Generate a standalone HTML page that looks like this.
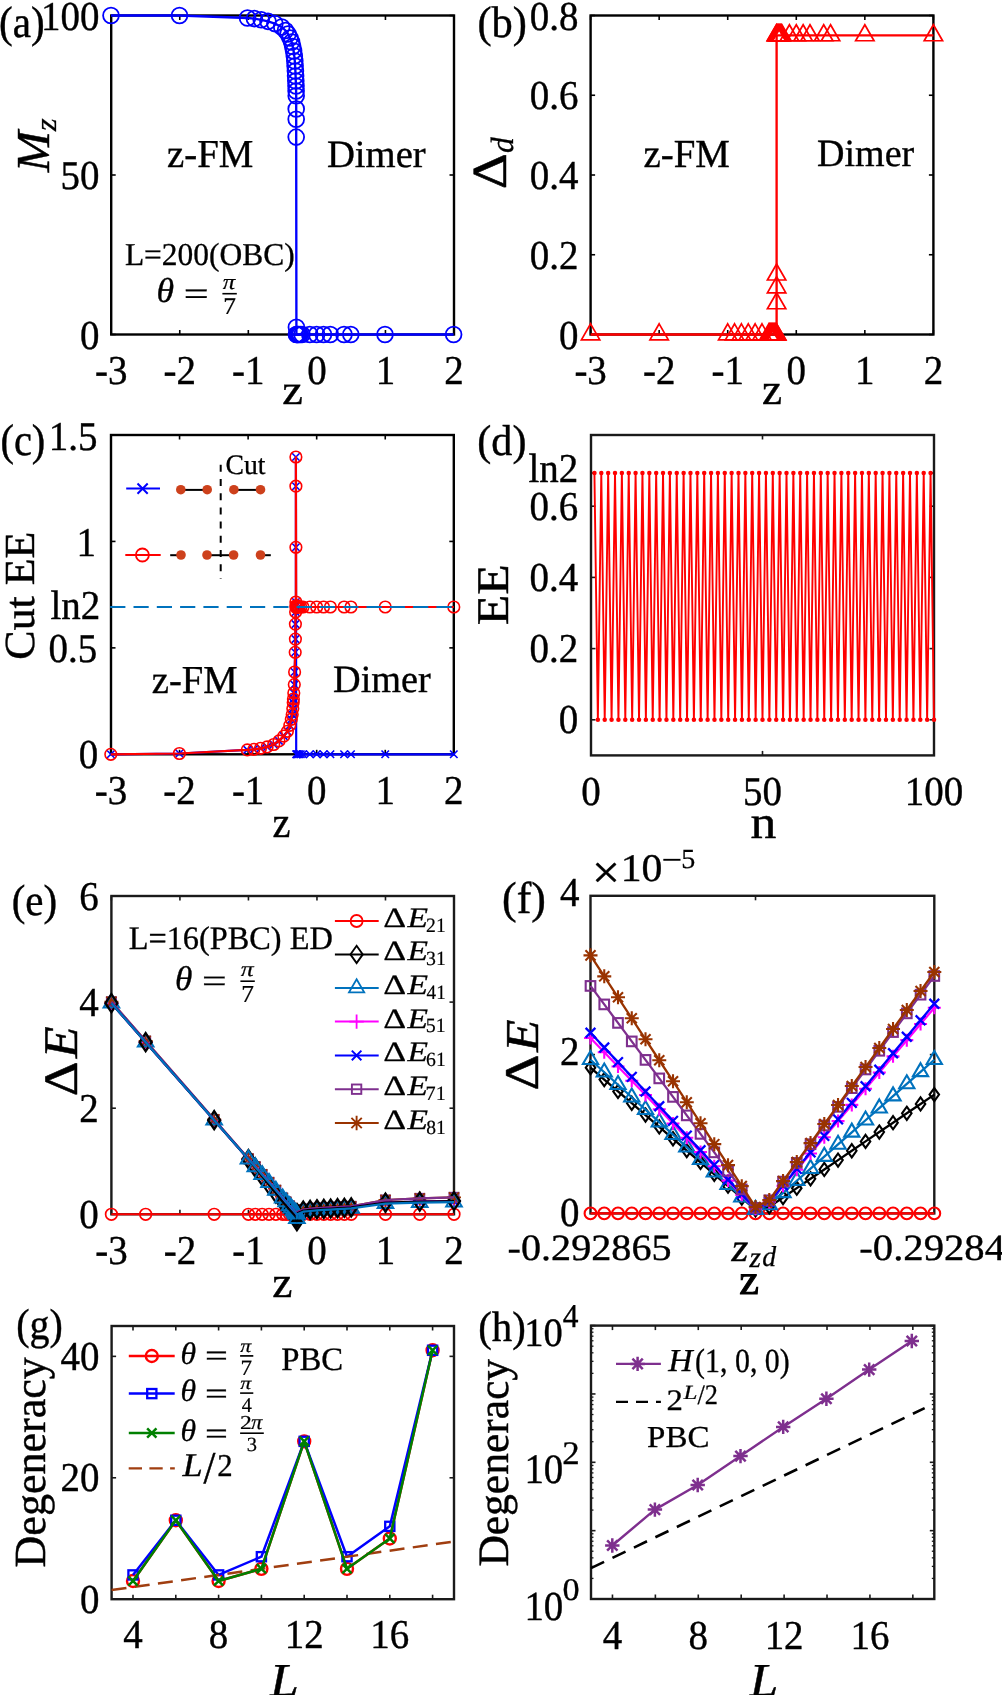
<!DOCTYPE html>
<html><head><meta charset="utf-8"><style>
html,body{margin:0;padding:0;background:#fff;}
svg{display:block;will-change:transform;}
text{font-family:"Liberation Serif", serif;text-rendering:geometricPrecision;stroke:#000;stroke-width:0;}
</style></head><body>
<svg width="1002" height="1695" viewBox="0 0 1002 1695">
<rect width="1002" height="1695" fill="#fff"/>
<text transform="translate(-1.05 37.2) scale(0.9320 1)" font-size="44.18" style="stroke-width:0.43px">(a)</text>
<line x1="111.2" y1="334.5" x2="111.2" y2="330" stroke="#000" stroke-width="1.6"/>
<line x1="111.2" y1="15.5" x2="111.2" y2="20" stroke="#000" stroke-width="1.6"/>
<line x1="179.76" y1="334.5" x2="179.76" y2="330" stroke="#000" stroke-width="1.6"/>
<line x1="179.76" y1="15.5" x2="179.76" y2="20" stroke="#000" stroke-width="1.6"/>
<line x1="248.32" y1="334.5" x2="248.32" y2="330" stroke="#000" stroke-width="1.6"/>
<line x1="248.32" y1="15.5" x2="248.32" y2="20" stroke="#000" stroke-width="1.6"/>
<line x1="316.88" y1="334.5" x2="316.88" y2="330" stroke="#000" stroke-width="1.6"/>
<line x1="316.88" y1="15.5" x2="316.88" y2="20" stroke="#000" stroke-width="1.6"/>
<line x1="385.44" y1="334.5" x2="385.44" y2="330" stroke="#000" stroke-width="1.6"/>
<line x1="385.44" y1="15.5" x2="385.44" y2="20" stroke="#000" stroke-width="1.6"/>
<line x1="454" y1="334.5" x2="454" y2="330" stroke="#000" stroke-width="1.6"/>
<line x1="454" y1="15.5" x2="454" y2="20" stroke="#000" stroke-width="1.6"/>
<line x1="111.2" y1="334.5" x2="115.7" y2="334.5" stroke="#000" stroke-width="1.6"/>
<line x1="454" y1="334.5" x2="449.5" y2="334.5" stroke="#000" stroke-width="1.6"/>
<line x1="111.2" y1="175" x2="115.7" y2="175" stroke="#000" stroke-width="1.6"/>
<line x1="454" y1="175" x2="449.5" y2="175" stroke="#000" stroke-width="1.6"/>
<line x1="111.2" y1="15.5" x2="115.7" y2="15.5" stroke="#000" stroke-width="1.6"/>
<line x1="454" y1="15.5" x2="449.5" y2="15.5" stroke="#000" stroke-width="1.6"/>
<rect x="111.2" y="15.5" width="342.8" height="319" fill="none" stroke="#000" stroke-width="2.4" stroke-linejoin="miter"/>
<polyline points="111,15.5 179.5,15.5 247.5,18 254.4,18.6 261.2,19.8 268,21.4 274.9,23.6 281.7,27 285.5,30.5 288,34 290,38 291.6,42 292.7,46.5 293.6,51 294.3,56 294.8,61 295.1,66 295.4,71 295.6,76 295.8,81 296,86 296.1,91 296.2,95.8 296.2,109 296.2,119.2 296.2,137.1 296.4,327.2 296.4,334.5 297,334.5 297.8,334.5 298.8,334.5 300.2,334.5 302,334.5 309.8,334.5 316.6,334.5 323.5,334.5 330.3,334.5 344,334.5 350.8,334.5 385,334.5 453.6,334.5" fill="none" stroke="#0000ff" stroke-width="2.35" stroke-linejoin="round"/>
<circle cx="111" cy="15.5" r="7.9" fill="none" stroke="#0000ff" stroke-width="1.8"/>
<circle cx="179.5" cy="15.5" r="7.9" fill="none" stroke="#0000ff" stroke-width="1.8"/>
<circle cx="247.5" cy="18" r="7.9" fill="none" stroke="#0000ff" stroke-width="1.8"/>
<circle cx="254.4" cy="18.6" r="7.9" fill="none" stroke="#0000ff" stroke-width="1.8"/>
<circle cx="261.2" cy="19.8" r="7.9" fill="none" stroke="#0000ff" stroke-width="1.8"/>
<circle cx="268" cy="21.4" r="7.9" fill="none" stroke="#0000ff" stroke-width="1.8"/>
<circle cx="274.9" cy="23.6" r="7.9" fill="none" stroke="#0000ff" stroke-width="1.8"/>
<circle cx="281.7" cy="27" r="7.9" fill="none" stroke="#0000ff" stroke-width="1.8"/>
<circle cx="285.5" cy="30.5" r="7.9" fill="none" stroke="#0000ff" stroke-width="1.8"/>
<circle cx="288" cy="34" r="7.9" fill="none" stroke="#0000ff" stroke-width="1.8"/>
<circle cx="290" cy="38" r="7.9" fill="none" stroke="#0000ff" stroke-width="1.8"/>
<circle cx="291.6" cy="42" r="7.9" fill="none" stroke="#0000ff" stroke-width="1.8"/>
<circle cx="292.7" cy="46.5" r="7.9" fill="none" stroke="#0000ff" stroke-width="1.8"/>
<circle cx="293.6" cy="51" r="7.9" fill="none" stroke="#0000ff" stroke-width="1.8"/>
<circle cx="294.3" cy="56" r="7.9" fill="none" stroke="#0000ff" stroke-width="1.8"/>
<circle cx="294.8" cy="61" r="7.9" fill="none" stroke="#0000ff" stroke-width="1.8"/>
<circle cx="295.1" cy="66" r="7.9" fill="none" stroke="#0000ff" stroke-width="1.8"/>
<circle cx="295.4" cy="71" r="7.9" fill="none" stroke="#0000ff" stroke-width="1.8"/>
<circle cx="295.6" cy="76" r="7.9" fill="none" stroke="#0000ff" stroke-width="1.8"/>
<circle cx="295.8" cy="81" r="7.9" fill="none" stroke="#0000ff" stroke-width="1.8"/>
<circle cx="296" cy="86" r="7.9" fill="none" stroke="#0000ff" stroke-width="1.8"/>
<circle cx="296.1" cy="91" r="7.9" fill="none" stroke="#0000ff" stroke-width="1.8"/>
<circle cx="296.2" cy="95.8" r="7.9" fill="none" stroke="#0000ff" stroke-width="1.8"/>
<circle cx="296.2" cy="109" r="7.9" fill="none" stroke="#0000ff" stroke-width="1.8"/>
<circle cx="296.2" cy="119.2" r="7.9" fill="none" stroke="#0000ff" stroke-width="1.8"/>
<circle cx="296.2" cy="137.1" r="7.9" fill="none" stroke="#0000ff" stroke-width="1.8"/>
<circle cx="296.4" cy="327.2" r="7.9" fill="none" stroke="#0000ff" stroke-width="1.8"/>
<circle cx="296.4" cy="334.5" r="7.9" fill="none" stroke="#0000ff" stroke-width="1.8"/>
<circle cx="297" cy="334.5" r="7.9" fill="none" stroke="#0000ff" stroke-width="1.8"/>
<circle cx="297.8" cy="334.5" r="7.9" fill="none" stroke="#0000ff" stroke-width="1.8"/>
<circle cx="298.8" cy="334.5" r="7.9" fill="none" stroke="#0000ff" stroke-width="1.8"/>
<circle cx="300.2" cy="334.5" r="7.9" fill="none" stroke="#0000ff" stroke-width="1.8"/>
<circle cx="302" cy="334.5" r="7.9" fill="none" stroke="#0000ff" stroke-width="1.8"/>
<circle cx="309.8" cy="334.5" r="7.9" fill="none" stroke="#0000ff" stroke-width="1.8"/>
<circle cx="316.6" cy="334.5" r="7.9" fill="none" stroke="#0000ff" stroke-width="1.8"/>
<circle cx="323.5" cy="334.5" r="7.9" fill="none" stroke="#0000ff" stroke-width="1.8"/>
<circle cx="330.3" cy="334.5" r="7.9" fill="none" stroke="#0000ff" stroke-width="1.8"/>
<circle cx="344" cy="334.5" r="7.9" fill="none" stroke="#0000ff" stroke-width="1.8"/>
<circle cx="350.8" cy="334.5" r="7.9" fill="none" stroke="#0000ff" stroke-width="1.8"/>
<circle cx="385" cy="334.5" r="7.9" fill="none" stroke="#0000ff" stroke-width="1.8"/>
<circle cx="453.6" cy="334.5" r="7.9" fill="none" stroke="#0000ff" stroke-width="1.8"/>
<text transform="translate(111.2 383.5) scale(0.950 1)" font-size="41" text-anchor="middle" style="stroke-width:0.40px">-3</text>
<text transform="translate(179.76 383.5) scale(0.950 1)" font-size="41" text-anchor="middle" style="stroke-width:0.40px">-2</text>
<text transform="translate(248.32 383.5) scale(0.950 1)" font-size="41" text-anchor="middle" style="stroke-width:0.40px">-1</text>
<text transform="translate(316.88 383.5) scale(0.950 1)" font-size="41" text-anchor="middle" style="stroke-width:0.40px">0</text>
<text transform="translate(385.44 383.5) scale(0.950 1)" font-size="41" text-anchor="middle" style="stroke-width:0.40px">1</text>
<text transform="translate(454 383.5) scale(0.950 1)" font-size="41" text-anchor="middle" style="stroke-width:0.40px">2</text>
<text transform="translate(99.5 348.5) scale(0.950 1)" font-size="41" text-anchor="end" style="stroke-width:0.40px">0</text>
<text transform="translate(99.5 189) scale(0.950 1)" font-size="41" text-anchor="end" style="stroke-width:0.40px">50</text>
<text transform="translate(99.5 29.5) scale(0.950 1)" font-size="41" text-anchor="end" style="stroke-width:0.40px">100</text>
<text transform="translate(282.34 403.9) scale(1.1045 1)" font-size="42.17" style="stroke-width:0.41px">z</text>
<text transform="translate(49 172.26) rotate(-90) scale(1.0458 1)" font-size="47.33" font-style="italic" style="stroke-width:0.46px">M</text>
<text transform="translate(56 131.2) rotate(-90) scale(1.0897 1)" font-size="30.43" font-style="italic" style="stroke-width:0.30px">z</text>
<text transform="translate(167.03 167.1) scale(0.9824 1)" font-size="39.54" style="stroke-width:0.39px">z-FM</text>
<text transform="translate(326.93 166.71) scale(1.0006 1)" font-size="38.67" style="stroke-width:0.38px">Dimer</text>
<text transform="translate(124.91 265.15) scale(0.9873 1)" font-size="31.87" style="stroke-width:0.31px">L=200(OBC)</text>
<text transform="translate(156.39 302.35) scale(1.0281 1)" font-size="34.79" font-style="italic" style="stroke-width:0.34px">θ</text>
<text transform="translate(183.81 304.67) scale(1.3000 1)" font-size="34.00" style="stroke-width:0.33px">=</text>
<text transform="translate(222.78 288.78) scale(1.1431 1)" font-size="21.70" font-style="italic" style="stroke-width:0.21px">π</text>
<line x1="222.4" y1="293.7" x2="236.8" y2="293.7" stroke="#000" stroke-width="1.6"/>
<text transform="translate(223.25 313.9) scale(1.0516 1)" font-size="24.12" style="stroke-width:0.24px">7</text>
<text transform="translate(477.4 37.2) scale(0.9597 1)" font-size="44.18" style="stroke-width:0.43px">(b)</text>
<line x1="590.6" y1="334.5" x2="590.6" y2="330" stroke="#000" stroke-width="1.6"/>
<line x1="590.6" y1="15.5" x2="590.6" y2="20" stroke="#000" stroke-width="1.6"/>
<line x1="659.16" y1="334.5" x2="659.16" y2="330" stroke="#000" stroke-width="1.6"/>
<line x1="659.16" y1="15.5" x2="659.16" y2="20" stroke="#000" stroke-width="1.6"/>
<line x1="727.72" y1="334.5" x2="727.72" y2="330" stroke="#000" stroke-width="1.6"/>
<line x1="727.72" y1="15.5" x2="727.72" y2="20" stroke="#000" stroke-width="1.6"/>
<line x1="796.28" y1="334.5" x2="796.28" y2="330" stroke="#000" stroke-width="1.6"/>
<line x1="796.28" y1="15.5" x2="796.28" y2="20" stroke="#000" stroke-width="1.6"/>
<line x1="864.84" y1="334.5" x2="864.84" y2="330" stroke="#000" stroke-width="1.6"/>
<line x1="864.84" y1="15.5" x2="864.84" y2="20" stroke="#000" stroke-width="1.6"/>
<line x1="933.4" y1="334.5" x2="933.4" y2="330" stroke="#000" stroke-width="1.6"/>
<line x1="933.4" y1="15.5" x2="933.4" y2="20" stroke="#000" stroke-width="1.6"/>
<line x1="590.6" y1="334.5" x2="595.1" y2="334.5" stroke="#000" stroke-width="1.6"/>
<line x1="933.4" y1="334.5" x2="928.9" y2="334.5" stroke="#000" stroke-width="1.6"/>
<line x1="590.6" y1="254.75" x2="595.1" y2="254.75" stroke="#000" stroke-width="1.6"/>
<line x1="933.4" y1="254.75" x2="928.9" y2="254.75" stroke="#000" stroke-width="1.6"/>
<line x1="590.6" y1="175" x2="595.1" y2="175" stroke="#000" stroke-width="1.6"/>
<line x1="933.4" y1="175" x2="928.9" y2="175" stroke="#000" stroke-width="1.6"/>
<line x1="590.6" y1="95.25" x2="595.1" y2="95.25" stroke="#000" stroke-width="1.6"/>
<line x1="933.4" y1="95.25" x2="928.9" y2="95.25" stroke="#000" stroke-width="1.6"/>
<line x1="590.6" y1="15.5" x2="595.1" y2="15.5" stroke="#000" stroke-width="1.6"/>
<line x1="933.4" y1="15.5" x2="928.9" y2="15.5" stroke="#000" stroke-width="1.6"/>
<rect x="590.6" y="15.5" width="342.8" height="319" fill="none" stroke="#000" stroke-width="2.4" stroke-linejoin="miter"/>
<polyline points="590.6,334.5 659.16,334.5 727.72,334.5 734.58,334.5 741.43,334.5 748.29,334.5 755.14,334.5 762,334.5 768.86,334.5 769.54,334.5 770.23,334.5 770.91,334.5 771.6,334.5 772.28,334.5 772.97,334.5 773.66,334.5 774.34,334.5 775.03,334.5 775.71,334.5 776.61,334.5 776.61,334.5 776.61,303.4 776.61,287.45 776.61,274.69 776.61,35.44 776.4,35.44 777.08,35.44 777.77,35.44 778.45,35.44 779.14,35.44 779.83,35.44 780.51,35.44 781.2,35.44 781.88,35.44 789.42,35.44 796.28,35.44 803.14,35.44 809.99,35.44 823.7,35.44 830.56,35.44 864.84,35.44 933.4,35.44" fill="none" stroke="#ff0000" stroke-width="2.35" stroke-linejoin="round"/>
<polygon points="590.6,323.83 599.8,339.83 581.4,339.83" fill="none" stroke="#ff0000" stroke-width="1.7" stroke-linejoin="miter"/>
<polygon points="659.16,323.83 668.36,339.83 649.96,339.83" fill="none" stroke="#ff0000" stroke-width="1.7" stroke-linejoin="miter"/>
<polygon points="727.72,323.83 736.92,339.83 718.52,339.83" fill="none" stroke="#ff0000" stroke-width="1.7" stroke-linejoin="miter"/>
<polygon points="734.58,323.83 743.78,339.83 725.38,339.83" fill="none" stroke="#ff0000" stroke-width="1.7" stroke-linejoin="miter"/>
<polygon points="741.43,323.83 750.63,339.83 732.23,339.83" fill="none" stroke="#ff0000" stroke-width="1.7" stroke-linejoin="miter"/>
<polygon points="748.29,323.83 757.49,339.83 739.09,339.83" fill="none" stroke="#ff0000" stroke-width="1.7" stroke-linejoin="miter"/>
<polygon points="755.14,323.83 764.34,339.83 745.94,339.83" fill="none" stroke="#ff0000" stroke-width="1.7" stroke-linejoin="miter"/>
<polygon points="762,323.83 771.2,339.83 752.8,339.83" fill="none" stroke="#ff0000" stroke-width="1.7" stroke-linejoin="miter"/>
<polygon points="768.86,323.83 778.06,339.83 759.66,339.83" fill="none" stroke="#ff0000" stroke-width="1.7" stroke-linejoin="miter"/>
<polygon points="769.54,323.83 778.74,339.83 760.34,339.83" fill="none" stroke="#ff0000" stroke-width="1.7" stroke-linejoin="miter"/>
<polygon points="770.23,323.83 779.43,339.83 761.03,339.83" fill="none" stroke="#ff0000" stroke-width="1.7" stroke-linejoin="miter"/>
<polygon points="770.91,323.83 780.11,339.83 761.71,339.83" fill="none" stroke="#ff0000" stroke-width="1.7" stroke-linejoin="miter"/>
<polygon points="771.6,323.83 780.8,339.83 762.4,339.83" fill="none" stroke="#ff0000" stroke-width="1.7" stroke-linejoin="miter"/>
<polygon points="772.28,323.83 781.48,339.83 763.08,339.83" fill="none" stroke="#ff0000" stroke-width="1.7" stroke-linejoin="miter"/>
<polygon points="772.97,323.83 782.17,339.83 763.77,339.83" fill="none" stroke="#ff0000" stroke-width="1.7" stroke-linejoin="miter"/>
<polygon points="773.66,323.83 782.86,339.83 764.46,339.83" fill="none" stroke="#ff0000" stroke-width="1.7" stroke-linejoin="miter"/>
<polygon points="774.34,323.83 783.54,339.83 765.14,339.83" fill="none" stroke="#ff0000" stroke-width="1.7" stroke-linejoin="miter"/>
<polygon points="775.03,323.83 784.23,339.83 765.83,339.83" fill="none" stroke="#ff0000" stroke-width="1.7" stroke-linejoin="miter"/>
<polygon points="775.71,323.83 784.91,339.83 766.51,339.83" fill="none" stroke="#ff0000" stroke-width="1.7" stroke-linejoin="miter"/>
<polygon points="776.61,323.83 785.81,339.83 767.41,339.83" fill="none" stroke="#ff0000" stroke-width="1.7" stroke-linejoin="miter"/>
<polygon points="776.61,323.83 785.81,339.83 767.41,339.83" fill="none" stroke="#ff0000" stroke-width="1.7" stroke-linejoin="miter"/>
<polygon points="776.61,292.73 785.81,308.73 767.41,308.73" fill="none" stroke="#ff0000" stroke-width="1.7" stroke-linejoin="miter"/>
<polygon points="776.61,276.78 785.81,292.78 767.41,292.78" fill="none" stroke="#ff0000" stroke-width="1.7" stroke-linejoin="miter"/>
<polygon points="776.61,264.02 785.81,280.02 767.41,280.02" fill="none" stroke="#ff0000" stroke-width="1.7" stroke-linejoin="miter"/>
<polygon points="776.61,24.77 785.81,40.77 767.41,40.77" fill="none" stroke="#ff0000" stroke-width="1.7" stroke-linejoin="miter"/>
<polygon points="776.4,24.77 785.6,40.77 767.2,40.77" fill="none" stroke="#ff0000" stroke-width="1.7" stroke-linejoin="miter"/>
<polygon points="777.08,24.77 786.28,40.77 767.88,40.77" fill="none" stroke="#ff0000" stroke-width="1.7" stroke-linejoin="miter"/>
<polygon points="777.77,24.77 786.97,40.77 768.57,40.77" fill="none" stroke="#ff0000" stroke-width="1.7" stroke-linejoin="miter"/>
<polygon points="778.45,24.77 787.65,40.77 769.25,40.77" fill="none" stroke="#ff0000" stroke-width="1.7" stroke-linejoin="miter"/>
<polygon points="779.14,24.77 788.34,40.77 769.94,40.77" fill="none" stroke="#ff0000" stroke-width="1.7" stroke-linejoin="miter"/>
<polygon points="779.83,24.77 789.03,40.77 770.63,40.77" fill="none" stroke="#ff0000" stroke-width="1.7" stroke-linejoin="miter"/>
<polygon points="780.51,24.77 789.71,40.77 771.31,40.77" fill="none" stroke="#ff0000" stroke-width="1.7" stroke-linejoin="miter"/>
<polygon points="781.2,24.77 790.4,40.77 772,40.77" fill="none" stroke="#ff0000" stroke-width="1.7" stroke-linejoin="miter"/>
<polygon points="781.88,24.77 791.08,40.77 772.68,40.77" fill="none" stroke="#ff0000" stroke-width="1.7" stroke-linejoin="miter"/>
<polygon points="789.42,24.77 798.62,40.77 780.22,40.77" fill="none" stroke="#ff0000" stroke-width="1.7" stroke-linejoin="miter"/>
<polygon points="796.28,24.77 805.48,40.77 787.08,40.77" fill="none" stroke="#ff0000" stroke-width="1.7" stroke-linejoin="miter"/>
<polygon points="803.14,24.77 812.34,40.77 793.94,40.77" fill="none" stroke="#ff0000" stroke-width="1.7" stroke-linejoin="miter"/>
<polygon points="809.99,24.77 819.19,40.77 800.79,40.77" fill="none" stroke="#ff0000" stroke-width="1.7" stroke-linejoin="miter"/>
<polygon points="823.7,24.77 832.9,40.77 814.5,40.77" fill="none" stroke="#ff0000" stroke-width="1.7" stroke-linejoin="miter"/>
<polygon points="830.56,24.77 839.76,40.77 821.36,40.77" fill="none" stroke="#ff0000" stroke-width="1.7" stroke-linejoin="miter"/>
<polygon points="864.84,24.77 874.04,40.77 855.64,40.77" fill="none" stroke="#ff0000" stroke-width="1.7" stroke-linejoin="miter"/>
<polygon points="933.4,24.77 942.6,40.77 924.2,40.77" fill="none" stroke="#ff0000" stroke-width="1.7" stroke-linejoin="miter"/>
<text transform="translate(590.6 383.5) scale(0.950 1)" font-size="41" text-anchor="middle" style="stroke-width:0.40px">-3</text>
<text transform="translate(659.16 383.5) scale(0.950 1)" font-size="41" text-anchor="middle" style="stroke-width:0.40px">-2</text>
<text transform="translate(727.72 383.5) scale(0.950 1)" font-size="41" text-anchor="middle" style="stroke-width:0.40px">-1</text>
<text transform="translate(796.28 383.5) scale(0.950 1)" font-size="41" text-anchor="middle" style="stroke-width:0.40px">0</text>
<text transform="translate(864.84 383.5) scale(0.950 1)" font-size="41" text-anchor="middle" style="stroke-width:0.40px">1</text>
<text transform="translate(933.4 383.5) scale(0.950 1)" font-size="41" text-anchor="middle" style="stroke-width:0.40px">2</text>
<text transform="translate(578.5 348.5) scale(0.950 1)" font-size="41" text-anchor="end" style="stroke-width:0.40px">0</text>
<text transform="translate(578.5 268.75) scale(0.950 1)" font-size="41" text-anchor="end" style="stroke-width:0.40px">0.2</text>
<text transform="translate(578.5 189) scale(0.950 1)" font-size="41" text-anchor="end" style="stroke-width:0.40px">0.4</text>
<text transform="translate(578.5 109.25) scale(0.950 1)" font-size="41" text-anchor="end" style="stroke-width:0.40px">0.6</text>
<text transform="translate(578.5 29.5) scale(0.950 1)" font-size="41" text-anchor="end" style="stroke-width:0.40px">0.8</text>
<text transform="translate(762.07 403.9) scale(1.0423 1)" font-size="43.48" style="stroke-width:0.42px">z</text>
<text transform="translate(505.9 189.37) rotate(-90) scale(1.1478 1)" font-size="48.94" style="stroke-width:0.48px">Δ</text>
<text transform="translate(512.78 153.05) rotate(-90) scale(0.9808 1)" font-size="32.20" font-style="italic" style="stroke-width:0.31px">d</text>
<text transform="translate(643.43 166.5) scale(0.9798 1)" font-size="39.69" style="stroke-width:0.39px">z-FM</text>
<text transform="translate(817.05 166.11) scale(0.9870 1)" font-size="38.52" style="stroke-width:0.38px">Dimer</text>
<text transform="translate(0.48 455.05) scale(0.9098 1)" font-size="44.40" style="stroke-width:0.43px">(c)</text>
<line x1="111" y1="754.3" x2="111" y2="749.8" stroke="#000" stroke-width="1.6"/>
<line x1="111" y1="435" x2="111" y2="439.5" stroke="#000" stroke-width="1.6"/>
<line x1="179.56" y1="754.3" x2="179.56" y2="749.8" stroke="#000" stroke-width="1.6"/>
<line x1="179.56" y1="435" x2="179.56" y2="439.5" stroke="#000" stroke-width="1.6"/>
<line x1="248.12" y1="754.3" x2="248.12" y2="749.8" stroke="#000" stroke-width="1.6"/>
<line x1="248.12" y1="435" x2="248.12" y2="439.5" stroke="#000" stroke-width="1.6"/>
<line x1="316.68" y1="754.3" x2="316.68" y2="749.8" stroke="#000" stroke-width="1.6"/>
<line x1="316.68" y1="435" x2="316.68" y2="439.5" stroke="#000" stroke-width="1.6"/>
<line x1="385.24" y1="754.3" x2="385.24" y2="749.8" stroke="#000" stroke-width="1.6"/>
<line x1="385.24" y1="435" x2="385.24" y2="439.5" stroke="#000" stroke-width="1.6"/>
<line x1="453.8" y1="754.3" x2="453.8" y2="749.8" stroke="#000" stroke-width="1.6"/>
<line x1="453.8" y1="435" x2="453.8" y2="439.5" stroke="#000" stroke-width="1.6"/>
<line x1="111" y1="754.3" x2="115.5" y2="754.3" stroke="#000" stroke-width="1.6"/>
<line x1="453.8" y1="754.3" x2="449.3" y2="754.3" stroke="#000" stroke-width="1.6"/>
<line x1="111" y1="647.87" x2="115.5" y2="647.87" stroke="#000" stroke-width="1.6"/>
<line x1="453.8" y1="647.87" x2="449.3" y2="647.87" stroke="#000" stroke-width="1.6"/>
<line x1="111" y1="606.76" x2="115.5" y2="606.76" stroke="#000" stroke-width="1.6"/>
<line x1="453.8" y1="606.76" x2="449.3" y2="606.76" stroke="#000" stroke-width="1.6"/>
<line x1="111" y1="541.43" x2="115.5" y2="541.43" stroke="#000" stroke-width="1.6"/>
<line x1="453.8" y1="541.43" x2="449.3" y2="541.43" stroke="#000" stroke-width="1.6"/>
<line x1="111" y1="435" x2="115.5" y2="435" stroke="#000" stroke-width="1.6"/>
<line x1="453.8" y1="435" x2="449.3" y2="435" stroke="#000" stroke-width="1.6"/>
<rect x="111" y="435" width="342.8" height="319.3" fill="none" stroke="#000" stroke-width="2.4" stroke-linejoin="miter"/>
<polyline points="110.8,754.3 179.4,753.5 247.3,749.9 253.9,749.3 260.5,748.3 267.1,746.9 273.7,744.5 279,740.9 283.8,736.1 287.4,731.3 289.8,725.3 291.3,719.3 292.2,714.6 292.8,708.6 293.2,702.6 293.4,699 293.8,693 294.3,684.6 294.6,672 295.2,652.3 295.4,639.1 295.4,624.1 295.6,612 295.8,606 295.9,602 295.9,547.3 295.9,486.2 295.9,457 296.2,754.3 296.6,754.3 297.2,754.3 298,754.3 299.2,754.3 300.8,754.3 303,754.3 309.82,754.3 316.68,754.3 323.54,754.3 330.39,754.3 344.1,754.3 350.96,754.3 385.24,754.3 453.8,754.3" fill="none" stroke="#0000ff" stroke-width="2.2" stroke-linejoin="round"/>
<path d="M107.05 750.55L114.55 758.05M107.05 758.05L114.55 750.55" stroke="#0000ff" stroke-width="1.6"/>
<path d="M175.65 749.75L183.15 757.25M175.65 757.25L183.15 749.75" stroke="#0000ff" stroke-width="1.6"/>
<path d="M243.55 746.15L251.05 753.65M243.55 753.65L251.05 746.15" stroke="#0000ff" stroke-width="1.6"/>
<path d="M250.15 745.55L257.65 753.05M250.15 753.05L257.65 745.55" stroke="#0000ff" stroke-width="1.6"/>
<path d="M256.75 744.55L264.25 752.05M256.75 752.05L264.25 744.55" stroke="#0000ff" stroke-width="1.6"/>
<path d="M263.35 743.15L270.85 750.65M263.35 750.65L270.85 743.15" stroke="#0000ff" stroke-width="1.6"/>
<path d="M269.95 740.75L277.45 748.25M269.95 748.25L277.45 740.75" stroke="#0000ff" stroke-width="1.6"/>
<path d="M275.25 737.15L282.75 744.65M275.25 744.65L282.75 737.15" stroke="#0000ff" stroke-width="1.6"/>
<path d="M280.05 732.35L287.55 739.85M280.05 739.85L287.55 732.35" stroke="#0000ff" stroke-width="1.6"/>
<path d="M283.65 727.55L291.15 735.05M283.65 735.05L291.15 727.55" stroke="#0000ff" stroke-width="1.6"/>
<path d="M286.05 721.55L293.55 729.05M286.05 729.05L293.55 721.55" stroke="#0000ff" stroke-width="1.6"/>
<path d="M287.55 715.55L295.05 723.05M287.55 723.05L295.05 715.55" stroke="#0000ff" stroke-width="1.6"/>
<path d="M288.45 710.85L295.95 718.35M288.45 718.35L295.95 710.85" stroke="#0000ff" stroke-width="1.6"/>
<path d="M289.05 704.85L296.55 712.35M289.05 712.35L296.55 704.85" stroke="#0000ff" stroke-width="1.6"/>
<path d="M289.45 698.85L296.95 706.35M289.45 706.35L296.95 698.85" stroke="#0000ff" stroke-width="1.6"/>
<path d="M289.65 695.25L297.15 702.75M289.65 702.75L297.15 695.25" stroke="#0000ff" stroke-width="1.6"/>
<path d="M290.05 689.25L297.55 696.75M290.05 696.75L297.55 689.25" stroke="#0000ff" stroke-width="1.6"/>
<path d="M290.55 680.85L298.05 688.35M290.55 688.35L298.05 680.85" stroke="#0000ff" stroke-width="1.6"/>
<path d="M290.85 668.25L298.35 675.75M290.85 675.75L298.35 668.25" stroke="#0000ff" stroke-width="1.6"/>
<path d="M291.45 648.55L298.95 656.05M291.45 656.05L298.95 648.55" stroke="#0000ff" stroke-width="1.6"/>
<path d="M291.65 635.35L299.15 642.85M291.65 642.85L299.15 635.35" stroke="#0000ff" stroke-width="1.6"/>
<path d="M291.65 620.35L299.15 627.85M291.65 627.85L299.15 620.35" stroke="#0000ff" stroke-width="1.6"/>
<path d="M291.85 608.25L299.35 615.75M291.85 615.75L299.35 608.25" stroke="#0000ff" stroke-width="1.6"/>
<path d="M292.05 602.25L299.55 609.75M292.05 609.75L299.55 602.25" stroke="#0000ff" stroke-width="1.6"/>
<path d="M292.15 598.25L299.65 605.75M292.15 605.75L299.65 598.25" stroke="#0000ff" stroke-width="1.6"/>
<path d="M292.15 543.55L299.65 551.05M292.15 551.05L299.65 543.55" stroke="#0000ff" stroke-width="1.6"/>
<path d="M292.15 482.45L299.65 489.95M292.15 489.95L299.65 482.45" stroke="#0000ff" stroke-width="1.6"/>
<path d="M292.15 453.25L299.65 460.75M292.15 460.75L299.65 453.25" stroke="#0000ff" stroke-width="1.6"/>
<path d="M292.45 750.55L299.95 758.05M292.45 758.05L299.95 750.55" stroke="#0000ff" stroke-width="1.6"/>
<path d="M292.85 750.55L300.35 758.05M292.85 758.05L300.35 750.55" stroke="#0000ff" stroke-width="1.6"/>
<path d="M293.45 750.55L300.95 758.05M293.45 758.05L300.95 750.55" stroke="#0000ff" stroke-width="1.6"/>
<path d="M294.25 750.55L301.75 758.05M294.25 758.05L301.75 750.55" stroke="#0000ff" stroke-width="1.6"/>
<path d="M295.45 750.55L302.95 758.05M295.45 758.05L302.95 750.55" stroke="#0000ff" stroke-width="1.6"/>
<path d="M297.05 750.55L304.55 758.05M297.05 758.05L304.55 750.55" stroke="#0000ff" stroke-width="1.6"/>
<path d="M299.25 750.55L306.75 758.05M299.25 758.05L306.75 750.55" stroke="#0000ff" stroke-width="1.6"/>
<path d="M306.07 750.55L313.57 758.05M306.07 758.05L313.57 750.55" stroke="#0000ff" stroke-width="1.6"/>
<path d="M312.93 750.55L320.43 758.05M312.93 758.05L320.43 750.55" stroke="#0000ff" stroke-width="1.6"/>
<path d="M319.79 750.55L327.29 758.05M319.79 758.05L327.29 750.55" stroke="#0000ff" stroke-width="1.6"/>
<path d="M326.64 750.55L334.14 758.05M326.64 758.05L334.14 750.55" stroke="#0000ff" stroke-width="1.6"/>
<path d="M340.35 750.55L347.85 758.05M340.35 758.05L347.85 750.55" stroke="#0000ff" stroke-width="1.6"/>
<path d="M347.21 750.55L354.71 758.05M347.21 758.05L354.71 750.55" stroke="#0000ff" stroke-width="1.6"/>
<path d="M381.49 750.55L388.99 758.05M381.49 758.05L388.99 750.55" stroke="#0000ff" stroke-width="1.6"/>
<path d="M450.05 750.55L457.55 758.05M450.05 758.05L457.55 750.55" stroke="#0000ff" stroke-width="1.6"/>
<polyline points="110.8,754.3 179.4,753.5 247.3,749.9 253.9,749.3 260.5,748.3 267.1,746.9 273.7,744.5 279,740.9 283.8,736.1 287.4,731.3 289.8,725.3 291.3,719.3 292.2,714.6 292.8,708.6 293.2,702.6 293.4,699 293.8,693 294.3,684.6 294.6,672 295.2,652.3 295.4,639.1 295.4,624.1 295.6,612 295.8,606 295.9,602 295.9,547.3 295.9,486.2 295.9,457 296.2,607.5 296.6,605.5 297.2,606.5 298,607 299.2,607 300.8,607 303,607 309.82,607 316.68,607 323.54,607 330.39,607 344.1,607 350.96,607 385.24,607 453.8,607" fill="none" stroke="#ff0000" stroke-width="2.2" stroke-linejoin="round"/>
<circle cx="110.8" cy="754.3" r="5.8" fill="none" stroke="#ff0000" stroke-width="1.6"/>
<circle cx="179.4" cy="753.5" r="5.8" fill="none" stroke="#ff0000" stroke-width="1.6"/>
<circle cx="247.3" cy="749.9" r="5.8" fill="none" stroke="#ff0000" stroke-width="1.6"/>
<circle cx="253.9" cy="749.3" r="5.8" fill="none" stroke="#ff0000" stroke-width="1.6"/>
<circle cx="260.5" cy="748.3" r="5.8" fill="none" stroke="#ff0000" stroke-width="1.6"/>
<circle cx="267.1" cy="746.9" r="5.8" fill="none" stroke="#ff0000" stroke-width="1.6"/>
<circle cx="273.7" cy="744.5" r="5.8" fill="none" stroke="#ff0000" stroke-width="1.6"/>
<circle cx="279" cy="740.9" r="5.8" fill="none" stroke="#ff0000" stroke-width="1.6"/>
<circle cx="283.8" cy="736.1" r="5.8" fill="none" stroke="#ff0000" stroke-width="1.6"/>
<circle cx="287.4" cy="731.3" r="5.8" fill="none" stroke="#ff0000" stroke-width="1.6"/>
<circle cx="289.8" cy="725.3" r="5.8" fill="none" stroke="#ff0000" stroke-width="1.6"/>
<circle cx="291.3" cy="719.3" r="5.8" fill="none" stroke="#ff0000" stroke-width="1.6"/>
<circle cx="292.2" cy="714.6" r="5.8" fill="none" stroke="#ff0000" stroke-width="1.6"/>
<circle cx="292.8" cy="708.6" r="5.8" fill="none" stroke="#ff0000" stroke-width="1.6"/>
<circle cx="293.2" cy="702.6" r="5.8" fill="none" stroke="#ff0000" stroke-width="1.6"/>
<circle cx="293.4" cy="699" r="5.8" fill="none" stroke="#ff0000" stroke-width="1.6"/>
<circle cx="293.8" cy="693" r="5.8" fill="none" stroke="#ff0000" stroke-width="1.6"/>
<circle cx="294.3" cy="684.6" r="5.8" fill="none" stroke="#ff0000" stroke-width="1.6"/>
<circle cx="294.6" cy="672" r="5.8" fill="none" stroke="#ff0000" stroke-width="1.6"/>
<circle cx="295.2" cy="652.3" r="5.8" fill="none" stroke="#ff0000" stroke-width="1.6"/>
<circle cx="295.4" cy="639.1" r="5.8" fill="none" stroke="#ff0000" stroke-width="1.6"/>
<circle cx="295.4" cy="624.1" r="5.8" fill="none" stroke="#ff0000" stroke-width="1.6"/>
<circle cx="295.6" cy="612" r="5.8" fill="none" stroke="#ff0000" stroke-width="1.6"/>
<circle cx="295.8" cy="606" r="5.8" fill="none" stroke="#ff0000" stroke-width="1.6"/>
<circle cx="295.9" cy="602" r="5.8" fill="none" stroke="#ff0000" stroke-width="1.6"/>
<circle cx="295.9" cy="547.3" r="5.8" fill="none" stroke="#ff0000" stroke-width="1.6"/>
<circle cx="295.9" cy="486.2" r="5.8" fill="none" stroke="#ff0000" stroke-width="1.6"/>
<circle cx="295.9" cy="457" r="5.8" fill="none" stroke="#ff0000" stroke-width="1.6"/>
<circle cx="296.2" cy="607.5" r="5.8" fill="none" stroke="#ff0000" stroke-width="1.6"/>
<circle cx="296.6" cy="605.5" r="5.8" fill="none" stroke="#ff0000" stroke-width="1.6"/>
<circle cx="297.2" cy="606.5" r="5.8" fill="none" stroke="#ff0000" stroke-width="1.6"/>
<circle cx="298" cy="607" r="5.8" fill="none" stroke="#ff0000" stroke-width="1.6"/>
<circle cx="299.2" cy="607" r="5.8" fill="none" stroke="#ff0000" stroke-width="1.6"/>
<circle cx="300.8" cy="607" r="5.8" fill="none" stroke="#ff0000" stroke-width="1.6"/>
<circle cx="303" cy="607" r="5.8" fill="none" stroke="#ff0000" stroke-width="1.6"/>
<circle cx="309.82" cy="607" r="5.8" fill="none" stroke="#ff0000" stroke-width="1.6"/>
<circle cx="316.68" cy="607" r="5.8" fill="none" stroke="#ff0000" stroke-width="1.6"/>
<circle cx="323.54" cy="607" r="5.8" fill="none" stroke="#ff0000" stroke-width="1.6"/>
<circle cx="330.39" cy="607" r="5.8" fill="none" stroke="#ff0000" stroke-width="1.6"/>
<circle cx="344.1" cy="607" r="5.8" fill="none" stroke="#ff0000" stroke-width="1.6"/>
<circle cx="350.96" cy="607" r="5.8" fill="none" stroke="#ff0000" stroke-width="1.6"/>
<circle cx="385.24" cy="607" r="5.8" fill="none" stroke="#ff0000" stroke-width="1.6"/>
<circle cx="453.8" cy="607" r="5.8" fill="none" stroke="#ff0000" stroke-width="1.6"/>
<line x1="110.2" y1="607" x2="454" y2="607" stroke="#0072bd" stroke-width="1.8" stroke-dasharray="15.2 8.1"/>
<line x1="126.2" y1="488.6" x2="160" y2="488.6" stroke="#0000ff" stroke-width="2"/>
<path d="M137.5 483.5L147.7 493.7M137.5 493.7L147.7 483.5" stroke="#0000ff" stroke-width="2"/>
<line x1="125.3" y1="555" x2="160.7" y2="555" stroke="#ff0000" stroke-width="2"/>
<circle cx="142.4" cy="555" r="6.5" fill="none" stroke="#ff0000" stroke-width="1.8"/>
<line x1="180.8" y1="489.9" x2="207.2" y2="489.9" stroke="#000" stroke-width="2"/>
<line x1="233.9" y1="489.9" x2="260.5" y2="489.9" stroke="#000" stroke-width="2"/>
<circle cx="180.8" cy="489.7" r="4.8" fill="#cd411c"/>
<circle cx="207.2" cy="489.7" r="4.8" fill="#cd411c"/>
<circle cx="233.9" cy="489.7" r="4.8" fill="#cd411c"/>
<circle cx="260.5" cy="489.7" r="4.8" fill="#cd411c"/>
<line x1="170.2" y1="555.2" x2="181" y2="555.2" stroke="#000" stroke-width="2"/>
<line x1="207" y1="555.2" x2="233.6" y2="555.2" stroke="#000" stroke-width="2"/>
<line x1="260.5" y1="555.2" x2="270.8" y2="555.2" stroke="#000" stroke-width="2"/>
<circle cx="181" cy="555" r="4.8" fill="#cd411c"/>
<circle cx="207" cy="555" r="4.8" fill="#cd411c"/>
<circle cx="233.6" cy="555" r="4.8" fill="#cd411c"/>
<circle cx="260.5" cy="555" r="4.8" fill="#cd411c"/>
<line x1="220.7" y1="464.8" x2="220.7" y2="579" stroke="#000" stroke-width="2" stroke-dasharray="7 7.2"/>
<text transform="translate(225.49 474.32) scale(0.9825 1)" font-size="28.21" style="stroke-width:0.28px">Cut</text>
<text transform="translate(111 804) scale(0.950 1)" font-size="41" text-anchor="middle" style="stroke-width:0.40px">-3</text>
<text transform="translate(179.56 804) scale(0.950 1)" font-size="41" text-anchor="middle" style="stroke-width:0.40px">-2</text>
<text transform="translate(248.12 804) scale(0.950 1)" font-size="41" text-anchor="middle" style="stroke-width:0.40px">-1</text>
<text transform="translate(316.68 804) scale(0.950 1)" font-size="41" text-anchor="middle" style="stroke-width:0.40px">0</text>
<text transform="translate(385.24 804) scale(0.950 1)" font-size="41" text-anchor="middle" style="stroke-width:0.40px">1</text>
<text transform="translate(453.8 804) scale(0.950 1)" font-size="41" text-anchor="middle" style="stroke-width:0.40px">2</text>
<text transform="translate(97.4 449.6) scale(0.950 1)" font-size="41" text-anchor="end" style="stroke-width:0.40px">1.5</text>
<text transform="translate(96 556) scale(0.950 1)" font-size="41" text-anchor="end" style="stroke-width:0.40px">1</text>
<text transform="translate(100.3 619.1) scale(0.950 1)" font-size="41" text-anchor="end" style="stroke-width:0.40px">ln2</text>
<text transform="translate(97.1 662.4) scale(0.950 1)" font-size="41" text-anchor="end" style="stroke-width:0.40px">0.5</text>
<text transform="translate(98.2 768.4) scale(0.950 1)" font-size="41" text-anchor="end" style="stroke-width:0.40px">0</text>
<text transform="translate(272.49 836.7) scale(0.9316 1)" font-size="43.48" style="stroke-width:0.42px">z</text>
<text transform="translate(33.57 659.66) rotate(-90) scale(1.0254 1)" font-size="42.84" style="stroke-width:0.42px">Cut EE</text>
<text transform="translate(151.83 692.7) scale(0.9766 1)" font-size="39.54" style="stroke-width:0.39px">z-FM</text>
<text transform="translate(333.04 692.31) scale(0.9893 1)" font-size="38.67" style="stroke-width:0.38px">Dimer</text>
<text transform="translate(477.32 455.31) scale(0.9753 1)" font-size="43.19" style="stroke-width:0.42px">(d)</text>
<line x1="591" y1="755.4" x2="591" y2="750.9" stroke="#1a1a1a" stroke-width="1.6"/>
<line x1="591" y1="435" x2="591" y2="439.5" stroke="#1a1a1a" stroke-width="1.6"/>
<line x1="762.5" y1="755.4" x2="762.5" y2="750.9" stroke="#1a1a1a" stroke-width="1.6"/>
<line x1="762.5" y1="435" x2="762.5" y2="439.5" stroke="#1a1a1a" stroke-width="1.6"/>
<line x1="934" y1="755.4" x2="934" y2="750.9" stroke="#1a1a1a" stroke-width="1.6"/>
<line x1="934" y1="435" x2="934" y2="439.5" stroke="#1a1a1a" stroke-width="1.6"/>
<line x1="591" y1="719.8" x2="595.5" y2="719.8" stroke="#1a1a1a" stroke-width="1.6"/>
<line x1="934" y1="719.8" x2="929.5" y2="719.8" stroke="#1a1a1a" stroke-width="1.6"/>
<line x1="591" y1="648.6" x2="595.5" y2="648.6" stroke="#1a1a1a" stroke-width="1.6"/>
<line x1="934" y1="648.6" x2="929.5" y2="648.6" stroke="#1a1a1a" stroke-width="1.6"/>
<line x1="591" y1="577.4" x2="595.5" y2="577.4" stroke="#1a1a1a" stroke-width="1.6"/>
<line x1="934" y1="577.4" x2="929.5" y2="577.4" stroke="#1a1a1a" stroke-width="1.6"/>
<line x1="591" y1="506.2" x2="595.5" y2="506.2" stroke="#1a1a1a" stroke-width="1.6"/>
<line x1="934" y1="506.2" x2="929.5" y2="506.2" stroke="#1a1a1a" stroke-width="1.6"/>
<line x1="591" y1="473.04" x2="595.5" y2="473.04" stroke="#1a1a1a" stroke-width="1.6"/>
<line x1="934" y1="473.04" x2="929.5" y2="473.04" stroke="#1a1a1a" stroke-width="1.6"/>
<rect x="591" y="435" width="343" height="320.4" fill="none" stroke="#1a1a1a" stroke-width="2.4" stroke-linejoin="miter"/>
<polyline points="594.43,473.04 597.86,719.8 601.29,473.04 604.72,719.8 608.15,473.04 611.58,719.8 615.01,473.04 618.44,719.8 621.87,473.04 625.3,719.8 628.73,473.04 632.16,719.8 635.59,473.04 639.02,719.8 642.45,473.04 645.88,719.8 649.31,473.04 652.74,719.8 656.17,473.04 659.6,719.8 663.03,473.04 666.46,719.8 669.89,473.04 673.32,719.8 676.75,473.04 680.18,719.8 683.61,473.04 687.04,719.8 690.47,473.04 693.9,719.8 697.33,473.04 700.76,719.8 704.19,473.04 707.62,719.8 711.05,473.04 714.48,719.8 717.91,473.04 721.34,719.8 724.77,473.04 728.2,719.8 731.63,473.04 735.06,719.8 738.49,473.04 741.92,719.8 745.35,473.04 748.78,719.8 752.21,473.04 755.64,719.8 759.07,473.04 762.5,719.8 765.93,473.04 769.36,719.8 772.79,473.04 776.22,719.8 779.65,473.04 783.08,719.8 786.51,473.04 789.94,719.8 793.37,473.04 796.8,719.8 800.23,473.04 803.66,719.8 807.09,473.04 810.52,719.8 813.95,473.04 817.38,719.8 820.81,473.04 824.24,719.8 827.67,473.04 831.1,719.8 834.53,473.04 837.96,719.8 841.39,473.04 844.82,719.8 848.25,473.04 851.68,719.8 855.11,473.04 858.54,719.8 861.97,473.04 865.4,719.8 868.83,473.04 872.26,719.8 875.69,473.04 879.12,719.8 882.55,473.04 885.98,719.8 889.41,473.04 892.84,719.8 896.27,473.04 899.7,719.8 903.13,473.04 906.56,719.8 909.99,473.04 913.42,719.8 916.85,473.04 920.28,719.8 923.71,473.04 927.14,719.8 930.57,473.04 934,719.8" fill="none" stroke="#ff0000" stroke-width="1.9" stroke-linejoin="miter"/>
<circle cx="594.43" cy="473.04" r="2.25" fill="#ff0000"/>
<circle cx="597.86" cy="719.8" r="2.25" fill="#ff0000"/>
<circle cx="601.29" cy="473.04" r="2.25" fill="#ff0000"/>
<circle cx="604.72" cy="719.8" r="2.25" fill="#ff0000"/>
<circle cx="608.15" cy="473.04" r="2.25" fill="#ff0000"/>
<circle cx="611.58" cy="719.8" r="2.25" fill="#ff0000"/>
<circle cx="615.01" cy="473.04" r="2.25" fill="#ff0000"/>
<circle cx="618.44" cy="719.8" r="2.25" fill="#ff0000"/>
<circle cx="621.87" cy="473.04" r="2.25" fill="#ff0000"/>
<circle cx="625.3" cy="719.8" r="2.25" fill="#ff0000"/>
<circle cx="628.73" cy="473.04" r="2.25" fill="#ff0000"/>
<circle cx="632.16" cy="719.8" r="2.25" fill="#ff0000"/>
<circle cx="635.59" cy="473.04" r="2.25" fill="#ff0000"/>
<circle cx="639.02" cy="719.8" r="2.25" fill="#ff0000"/>
<circle cx="642.45" cy="473.04" r="2.25" fill="#ff0000"/>
<circle cx="645.88" cy="719.8" r="2.25" fill="#ff0000"/>
<circle cx="649.31" cy="473.04" r="2.25" fill="#ff0000"/>
<circle cx="652.74" cy="719.8" r="2.25" fill="#ff0000"/>
<circle cx="656.17" cy="473.04" r="2.25" fill="#ff0000"/>
<circle cx="659.6" cy="719.8" r="2.25" fill="#ff0000"/>
<circle cx="663.03" cy="473.04" r="2.25" fill="#ff0000"/>
<circle cx="666.46" cy="719.8" r="2.25" fill="#ff0000"/>
<circle cx="669.89" cy="473.04" r="2.25" fill="#ff0000"/>
<circle cx="673.32" cy="719.8" r="2.25" fill="#ff0000"/>
<circle cx="676.75" cy="473.04" r="2.25" fill="#ff0000"/>
<circle cx="680.18" cy="719.8" r="2.25" fill="#ff0000"/>
<circle cx="683.61" cy="473.04" r="2.25" fill="#ff0000"/>
<circle cx="687.04" cy="719.8" r="2.25" fill="#ff0000"/>
<circle cx="690.47" cy="473.04" r="2.25" fill="#ff0000"/>
<circle cx="693.9" cy="719.8" r="2.25" fill="#ff0000"/>
<circle cx="697.33" cy="473.04" r="2.25" fill="#ff0000"/>
<circle cx="700.76" cy="719.8" r="2.25" fill="#ff0000"/>
<circle cx="704.19" cy="473.04" r="2.25" fill="#ff0000"/>
<circle cx="707.62" cy="719.8" r="2.25" fill="#ff0000"/>
<circle cx="711.05" cy="473.04" r="2.25" fill="#ff0000"/>
<circle cx="714.48" cy="719.8" r="2.25" fill="#ff0000"/>
<circle cx="717.91" cy="473.04" r="2.25" fill="#ff0000"/>
<circle cx="721.34" cy="719.8" r="2.25" fill="#ff0000"/>
<circle cx="724.77" cy="473.04" r="2.25" fill="#ff0000"/>
<circle cx="728.2" cy="719.8" r="2.25" fill="#ff0000"/>
<circle cx="731.63" cy="473.04" r="2.25" fill="#ff0000"/>
<circle cx="735.06" cy="719.8" r="2.25" fill="#ff0000"/>
<circle cx="738.49" cy="473.04" r="2.25" fill="#ff0000"/>
<circle cx="741.92" cy="719.8" r="2.25" fill="#ff0000"/>
<circle cx="745.35" cy="473.04" r="2.25" fill="#ff0000"/>
<circle cx="748.78" cy="719.8" r="2.25" fill="#ff0000"/>
<circle cx="752.21" cy="473.04" r="2.25" fill="#ff0000"/>
<circle cx="755.64" cy="719.8" r="2.25" fill="#ff0000"/>
<circle cx="759.07" cy="473.04" r="2.25" fill="#ff0000"/>
<circle cx="762.5" cy="719.8" r="2.25" fill="#ff0000"/>
<circle cx="765.93" cy="473.04" r="2.25" fill="#ff0000"/>
<circle cx="769.36" cy="719.8" r="2.25" fill="#ff0000"/>
<circle cx="772.79" cy="473.04" r="2.25" fill="#ff0000"/>
<circle cx="776.22" cy="719.8" r="2.25" fill="#ff0000"/>
<circle cx="779.65" cy="473.04" r="2.25" fill="#ff0000"/>
<circle cx="783.08" cy="719.8" r="2.25" fill="#ff0000"/>
<circle cx="786.51" cy="473.04" r="2.25" fill="#ff0000"/>
<circle cx="789.94" cy="719.8" r="2.25" fill="#ff0000"/>
<circle cx="793.37" cy="473.04" r="2.25" fill="#ff0000"/>
<circle cx="796.8" cy="719.8" r="2.25" fill="#ff0000"/>
<circle cx="800.23" cy="473.04" r="2.25" fill="#ff0000"/>
<circle cx="803.66" cy="719.8" r="2.25" fill="#ff0000"/>
<circle cx="807.09" cy="473.04" r="2.25" fill="#ff0000"/>
<circle cx="810.52" cy="719.8" r="2.25" fill="#ff0000"/>
<circle cx="813.95" cy="473.04" r="2.25" fill="#ff0000"/>
<circle cx="817.38" cy="719.8" r="2.25" fill="#ff0000"/>
<circle cx="820.81" cy="473.04" r="2.25" fill="#ff0000"/>
<circle cx="824.24" cy="719.8" r="2.25" fill="#ff0000"/>
<circle cx="827.67" cy="473.04" r="2.25" fill="#ff0000"/>
<circle cx="831.1" cy="719.8" r="2.25" fill="#ff0000"/>
<circle cx="834.53" cy="473.04" r="2.25" fill="#ff0000"/>
<circle cx="837.96" cy="719.8" r="2.25" fill="#ff0000"/>
<circle cx="841.39" cy="473.04" r="2.25" fill="#ff0000"/>
<circle cx="844.82" cy="719.8" r="2.25" fill="#ff0000"/>
<circle cx="848.25" cy="473.04" r="2.25" fill="#ff0000"/>
<circle cx="851.68" cy="719.8" r="2.25" fill="#ff0000"/>
<circle cx="855.11" cy="473.04" r="2.25" fill="#ff0000"/>
<circle cx="858.54" cy="719.8" r="2.25" fill="#ff0000"/>
<circle cx="861.97" cy="473.04" r="2.25" fill="#ff0000"/>
<circle cx="865.4" cy="719.8" r="2.25" fill="#ff0000"/>
<circle cx="868.83" cy="473.04" r="2.25" fill="#ff0000"/>
<circle cx="872.26" cy="719.8" r="2.25" fill="#ff0000"/>
<circle cx="875.69" cy="473.04" r="2.25" fill="#ff0000"/>
<circle cx="879.12" cy="719.8" r="2.25" fill="#ff0000"/>
<circle cx="882.55" cy="473.04" r="2.25" fill="#ff0000"/>
<circle cx="885.98" cy="719.8" r="2.25" fill="#ff0000"/>
<circle cx="889.41" cy="473.04" r="2.25" fill="#ff0000"/>
<circle cx="892.84" cy="719.8" r="2.25" fill="#ff0000"/>
<circle cx="896.27" cy="473.04" r="2.25" fill="#ff0000"/>
<circle cx="899.7" cy="719.8" r="2.25" fill="#ff0000"/>
<circle cx="903.13" cy="473.04" r="2.25" fill="#ff0000"/>
<circle cx="906.56" cy="719.8" r="2.25" fill="#ff0000"/>
<circle cx="909.99" cy="473.04" r="2.25" fill="#ff0000"/>
<circle cx="913.42" cy="719.8" r="2.25" fill="#ff0000"/>
<circle cx="916.85" cy="473.04" r="2.25" fill="#ff0000"/>
<circle cx="920.28" cy="719.8" r="2.25" fill="#ff0000"/>
<circle cx="923.71" cy="473.04" r="2.25" fill="#ff0000"/>
<circle cx="927.14" cy="719.8" r="2.25" fill="#ff0000"/>
<circle cx="930.57" cy="473.04" r="2.25" fill="#ff0000"/>
<circle cx="934" cy="719.8" r="2.25" fill="#ff0000"/>
<text transform="translate(591 804.5) scale(0.950 1)" font-size="41" text-anchor="middle" style="stroke-width:0.40px">0</text>
<text transform="translate(762.5 804.5) scale(0.950 1)" font-size="41" text-anchor="middle" style="stroke-width:0.40px">50</text>
<text transform="translate(934 804.5) scale(0.950 1)" font-size="41" text-anchor="middle" style="stroke-width:0.40px">100</text>
<text transform="translate(578.3 481.6) scale(0.950 1)" font-size="41" text-anchor="end" style="stroke-width:0.40px">ln2</text>
<text transform="translate(578.3 519.8) scale(0.950 1)" font-size="41" text-anchor="end" style="stroke-width:0.40px">0.6</text>
<text transform="translate(578.3 591) scale(0.950 1)" font-size="41" text-anchor="end" style="stroke-width:0.40px">0.4</text>
<text transform="translate(578.3 662.1) scale(0.950 1)" font-size="41" text-anchor="end" style="stroke-width:0.40px">0.2</text>
<text transform="translate(578.3 733.3) scale(0.950 1)" font-size="41" text-anchor="end" style="stroke-width:0.40px">0</text>
<text transform="translate(750.57 837.8) scale(1.1077 1)" font-size="46.60" style="stroke-width:0.45px">n</text>
<text transform="translate(507.7 625.15) rotate(-90) scale(1.0989 1)" font-size="45.34" style="stroke-width:0.44px">EE</text>
<text transform="translate(11.66 915.47) scale(0.9345 1)" font-size="43.85" style="stroke-width:0.43px">(e)</text>
<line x1="111.4" y1="1214.3" x2="111.4" y2="1209.8" stroke="#1a1a1a" stroke-width="1.6"/>
<line x1="111.4" y1="896" x2="111.4" y2="900.5" stroke="#1a1a1a" stroke-width="1.6"/>
<line x1="179.92" y1="1214.3" x2="179.92" y2="1209.8" stroke="#1a1a1a" stroke-width="1.6"/>
<line x1="179.92" y1="896" x2="179.92" y2="900.5" stroke="#1a1a1a" stroke-width="1.6"/>
<line x1="248.44" y1="1214.3" x2="248.44" y2="1209.8" stroke="#1a1a1a" stroke-width="1.6"/>
<line x1="248.44" y1="896" x2="248.44" y2="900.5" stroke="#1a1a1a" stroke-width="1.6"/>
<line x1="316.96" y1="1214.3" x2="316.96" y2="1209.8" stroke="#1a1a1a" stroke-width="1.6"/>
<line x1="316.96" y1="896" x2="316.96" y2="900.5" stroke="#1a1a1a" stroke-width="1.6"/>
<line x1="385.48" y1="1214.3" x2="385.48" y2="1209.8" stroke="#1a1a1a" stroke-width="1.6"/>
<line x1="385.48" y1="896" x2="385.48" y2="900.5" stroke="#1a1a1a" stroke-width="1.6"/>
<line x1="454" y1="1214.3" x2="454" y2="1209.8" stroke="#1a1a1a" stroke-width="1.6"/>
<line x1="454" y1="896" x2="454" y2="900.5" stroke="#1a1a1a" stroke-width="1.6"/>
<line x1="111.4" y1="1214.3" x2="115.9" y2="1214.3" stroke="#1a1a1a" stroke-width="1.6"/>
<line x1="454" y1="1214.3" x2="449.5" y2="1214.3" stroke="#1a1a1a" stroke-width="1.6"/>
<line x1="111.4" y1="1108.2" x2="115.9" y2="1108.2" stroke="#1a1a1a" stroke-width="1.6"/>
<line x1="454" y1="1108.2" x2="449.5" y2="1108.2" stroke="#1a1a1a" stroke-width="1.6"/>
<line x1="111.4" y1="1002.1" x2="115.9" y2="1002.1" stroke="#1a1a1a" stroke-width="1.6"/>
<line x1="454" y1="1002.1" x2="449.5" y2="1002.1" stroke="#1a1a1a" stroke-width="1.6"/>
<line x1="111.4" y1="896" x2="115.9" y2="896" stroke="#1a1a1a" stroke-width="1.6"/>
<line x1="454" y1="896" x2="449.5" y2="896" stroke="#1a1a1a" stroke-width="1.6"/>
<rect x="111.4" y="896" width="342.6" height="318.3" fill="none" stroke="#1a1a1a" stroke-width="2.4" stroke-linejoin="miter"/>
<polyline points="111.4,1214.3 145.66,1214.3 214.18,1214.3 248.44,1214.3 255.29,1214.3 262.14,1214.3 269,1214.3 275.85,1214.3 282.7,1214.3 286.13,1214.3 289.55,1214.3 291.61,1214.3 293.66,1214.3 295.03,1214.3 295.72,1214.3 296.4,1214.3 296.75,1214.3 296.9,1214.3 297.09,1214.3 303.26,1214.3 310.11,1214.3 316.96,1214.3 323.81,1214.3 330.66,1214.3 337.52,1214.3 344.37,1214.3 351.22,1214.3 385.48,1214.3 419.74,1214.3 454,1214.3" fill="none" stroke="#ff0000" stroke-width="2" stroke-linejoin="round"/>
<circle cx="111.4" cy="1214.3" r="5.8" fill="none" stroke="#ff0000" stroke-width="1.7"/>
<circle cx="145.66" cy="1214.3" r="5.8" fill="none" stroke="#ff0000" stroke-width="1.7"/>
<circle cx="214.18" cy="1214.3" r="5.8" fill="none" stroke="#ff0000" stroke-width="1.7"/>
<circle cx="248.44" cy="1214.3" r="5.8" fill="none" stroke="#ff0000" stroke-width="1.7"/>
<circle cx="255.29" cy="1214.3" r="5.8" fill="none" stroke="#ff0000" stroke-width="1.7"/>
<circle cx="262.14" cy="1214.3" r="5.8" fill="none" stroke="#ff0000" stroke-width="1.7"/>
<circle cx="269" cy="1214.3" r="5.8" fill="none" stroke="#ff0000" stroke-width="1.7"/>
<circle cx="275.85" cy="1214.3" r="5.8" fill="none" stroke="#ff0000" stroke-width="1.7"/>
<circle cx="282.7" cy="1214.3" r="5.8" fill="none" stroke="#ff0000" stroke-width="1.7"/>
<circle cx="286.13" cy="1214.3" r="5.8" fill="none" stroke="#ff0000" stroke-width="1.7"/>
<circle cx="289.55" cy="1214.3" r="5.8" fill="none" stroke="#ff0000" stroke-width="1.7"/>
<circle cx="291.61" cy="1214.3" r="5.8" fill="none" stroke="#ff0000" stroke-width="1.7"/>
<circle cx="293.66" cy="1214.3" r="5.8" fill="none" stroke="#ff0000" stroke-width="1.7"/>
<circle cx="295.03" cy="1214.3" r="5.8" fill="none" stroke="#ff0000" stroke-width="1.7"/>
<circle cx="295.72" cy="1214.3" r="5.8" fill="none" stroke="#ff0000" stroke-width="1.7"/>
<circle cx="296.4" cy="1214.3" r="5.8" fill="none" stroke="#ff0000" stroke-width="1.7"/>
<circle cx="296.75" cy="1214.3" r="5.8" fill="none" stroke="#ff0000" stroke-width="1.7"/>
<circle cx="296.9" cy="1214.3" r="5.8" fill="none" stroke="#ff0000" stroke-width="1.7"/>
<circle cx="297.09" cy="1214.3" r="5.8" fill="none" stroke="#ff0000" stroke-width="1.7"/>
<circle cx="303.26" cy="1214.3" r="5.8" fill="none" stroke="#ff0000" stroke-width="1.7"/>
<circle cx="310.11" cy="1214.3" r="5.8" fill="none" stroke="#ff0000" stroke-width="1.7"/>
<circle cx="316.96" cy="1214.3" r="5.8" fill="none" stroke="#ff0000" stroke-width="1.7"/>
<circle cx="323.81" cy="1214.3" r="5.8" fill="none" stroke="#ff0000" stroke-width="1.7"/>
<circle cx="330.66" cy="1214.3" r="5.8" fill="none" stroke="#ff0000" stroke-width="1.7"/>
<circle cx="337.52" cy="1214.3" r="5.8" fill="none" stroke="#ff0000" stroke-width="1.7"/>
<circle cx="344.37" cy="1214.3" r="5.8" fill="none" stroke="#ff0000" stroke-width="1.7"/>
<circle cx="351.22" cy="1214.3" r="5.8" fill="none" stroke="#ff0000" stroke-width="1.7"/>
<circle cx="385.48" cy="1214.3" r="5.8" fill="none" stroke="#ff0000" stroke-width="1.7"/>
<circle cx="419.74" cy="1214.3" r="5.8" fill="none" stroke="#ff0000" stroke-width="1.7"/>
<circle cx="454" cy="1214.3" r="5.8" fill="none" stroke="#ff0000" stroke-width="1.7"/>
<path d="M104.4 1003.18H118.4M111.4 996.18V1010.18" stroke="#ff00ff" stroke-width="1.8"/>
<path d="M138.66 1042.17H152.66M145.66 1035.17V1049.17" stroke="#ff00ff" stroke-width="1.8"/>
<path d="M207.18 1120.16H221.18M214.18 1113.16V1127.16" stroke="#ff00ff" stroke-width="1.8"/>
<path d="M241.44 1159.15H255.44M248.44 1152.15V1166.15" stroke="#ff00ff" stroke-width="1.8"/>
<path d="M248.29 1166.95H262.29M255.29 1159.95V1173.95" stroke="#ff00ff" stroke-width="1.8"/>
<path d="M255.14 1174.75H269.14M262.14 1167.75V1181.75" stroke="#ff00ff" stroke-width="1.8"/>
<path d="M262 1182.55H276M269 1175.55V1189.55" stroke="#ff00ff" stroke-width="1.8"/>
<path d="M268.85 1190.34H282.85M275.85 1183.34V1197.34" stroke="#ff00ff" stroke-width="1.8"/>
<path d="M275.7 1198.14H289.7M282.7 1191.14V1205.14" stroke="#ff00ff" stroke-width="1.8"/>
<path d="M279.13 1202.04H293.13M286.13 1195.04V1209.04" stroke="#ff00ff" stroke-width="1.8"/>
<path d="M282.55 1205.94H296.55M289.55 1198.94V1212.94" stroke="#ff00ff" stroke-width="1.8"/>
<path d="M284.61 1208.28H298.61M291.61 1201.28V1215.28" stroke="#ff00ff" stroke-width="1.8"/>
<path d="M286.66 1210.62H300.66M293.66 1203.62V1217.62" stroke="#ff00ff" stroke-width="1.8"/>
<path d="M288.03 1212.18H302.03M295.03 1205.18V1219.18" stroke="#ff00ff" stroke-width="1.8"/>
<path d="M288.72 1212.96H302.72M295.72 1205.96V1219.96" stroke="#ff00ff" stroke-width="1.8"/>
<path d="M289.4 1213.74H303.4M296.4 1206.74V1220.74" stroke="#ff00ff" stroke-width="1.8"/>
<path d="M289.75 1214.13H303.75M296.75 1207.13V1221.13" stroke="#ff00ff" stroke-width="1.8"/>
<path d="M289.9 1216.95H303.9M296.9 1209.95V1223.95" stroke="#ff00ff" stroke-width="1.8"/>
<path d="M290.09 1213.24H304.09M297.09 1206.24V1220.24" stroke="#ff00ff" stroke-width="1.8"/>
<path d="M296.26 1210.59H310.26M303.26 1203.59V1217.59" stroke="#ff00ff" stroke-width="1.8"/>
<path d="M303.11 1209.92H317.11M310.11 1202.92V1216.92" stroke="#ff00ff" stroke-width="1.8"/>
<path d="M309.96 1209.26H323.96M316.96 1202.26V1216.26" stroke="#ff00ff" stroke-width="1.8"/>
<path d="M316.81 1208.89H330.81M323.81 1201.89V1215.89" stroke="#ff00ff" stroke-width="1.8"/>
<path d="M323.66 1208.52H337.66M330.66 1201.52V1215.52" stroke="#ff00ff" stroke-width="1.8"/>
<path d="M330.52 1208.15H344.52M337.52 1201.15V1215.15" stroke="#ff00ff" stroke-width="1.8"/>
<path d="M337.37 1207.77H351.37M344.37 1200.77V1214.77" stroke="#ff00ff" stroke-width="1.8"/>
<path d="M344.22 1207.4H358.22M351.22 1200.4V1214.4" stroke="#ff00ff" stroke-width="1.8"/>
<path d="M378.48 1202.63H392.48M385.48 1195.63V1209.63" stroke="#ff00ff" stroke-width="1.8"/>
<path d="M412.74 1201.57H426.74M419.74 1194.57V1208.57" stroke="#ff00ff" stroke-width="1.8"/>
<path d="M447 1201.04H461M454 1194.04V1208.04" stroke="#ff00ff" stroke-width="1.8"/>
<path d="M106.9 998.68L115.9 1007.68M106.9 1007.68L115.9 998.68" stroke="#0000ff" stroke-width="1.8"/>
<path d="M141.16 1037.67L150.16 1046.67M141.16 1046.67L150.16 1037.67" stroke="#0000ff" stroke-width="1.8"/>
<path d="M209.68 1115.66L218.68 1124.66M209.68 1124.66L218.68 1115.66" stroke="#0000ff" stroke-width="1.8"/>
<path d="M243.94 1154.65L252.94 1163.65M243.94 1163.65L252.94 1154.65" stroke="#0000ff" stroke-width="1.8"/>
<path d="M250.79 1162.45L259.79 1171.45M250.79 1171.45L259.79 1162.45" stroke="#0000ff" stroke-width="1.8"/>
<path d="M257.64 1170.25L266.64 1179.25M257.64 1179.25L266.64 1170.25" stroke="#0000ff" stroke-width="1.8"/>
<path d="M264.5 1178.05L273.5 1187.05M264.5 1187.05L273.5 1178.05" stroke="#0000ff" stroke-width="1.8"/>
<path d="M271.35 1185.84L280.35 1194.84M271.35 1194.84L280.35 1185.84" stroke="#0000ff" stroke-width="1.8"/>
<path d="M278.2 1193.64L287.2 1202.64M278.2 1202.64L287.2 1193.64" stroke="#0000ff" stroke-width="1.8"/>
<path d="M281.63 1197.54L290.63 1206.54M281.63 1206.54L290.63 1197.54" stroke="#0000ff" stroke-width="1.8"/>
<path d="M285.05 1201.44L294.05 1210.44M285.05 1210.44L294.05 1201.44" stroke="#0000ff" stroke-width="1.8"/>
<path d="M287.11 1203.78L296.11 1212.78M287.11 1212.78L296.11 1203.78" stroke="#0000ff" stroke-width="1.8"/>
<path d="M289.16 1206.12L298.16 1215.12M289.16 1215.12L298.16 1206.12" stroke="#0000ff" stroke-width="1.8"/>
<path d="M290.53 1207.68L299.53 1216.68M290.53 1216.68L299.53 1207.68" stroke="#0000ff" stroke-width="1.8"/>
<path d="M291.22 1208.46L300.22 1217.46M291.22 1217.46L300.22 1208.46" stroke="#0000ff" stroke-width="1.8"/>
<path d="M291.9 1209.24L300.9 1218.24M291.9 1218.24L300.9 1209.24" stroke="#0000ff" stroke-width="1.8"/>
<path d="M292.25 1209.63L301.25 1218.63M292.25 1218.63L301.25 1209.63" stroke="#0000ff" stroke-width="1.8"/>
<path d="M292.4 1212.45L301.4 1221.45M292.4 1221.45L301.4 1212.45" stroke="#0000ff" stroke-width="1.8"/>
<path d="M292.59 1208.74L301.59 1217.74M292.59 1217.74L301.59 1208.74" stroke="#0000ff" stroke-width="1.8"/>
<path d="M298.76 1206.09L307.76 1215.09M298.76 1215.09L307.76 1206.09" stroke="#0000ff" stroke-width="1.8"/>
<path d="M305.61 1205.42L314.61 1214.42M305.61 1214.42L314.61 1205.42" stroke="#0000ff" stroke-width="1.8"/>
<path d="M312.46 1204.76L321.46 1213.76M312.46 1213.76L321.46 1204.76" stroke="#0000ff" stroke-width="1.8"/>
<path d="M319.31 1204.39L328.31 1213.39M319.31 1213.39L328.31 1204.39" stroke="#0000ff" stroke-width="1.8"/>
<path d="M326.16 1204.02L335.16 1213.02M326.16 1213.02L335.16 1204.02" stroke="#0000ff" stroke-width="1.8"/>
<path d="M333.02 1203.65L342.02 1212.65M333.02 1212.65L342.02 1203.65" stroke="#0000ff" stroke-width="1.8"/>
<path d="M339.87 1203.27L348.87 1212.27M339.87 1212.27L348.87 1203.27" stroke="#0000ff" stroke-width="1.8"/>
<path d="M346.72 1202.9L355.72 1211.9M346.72 1211.9L355.72 1202.9" stroke="#0000ff" stroke-width="1.8"/>
<path d="M380.98 1198.13L389.98 1207.13M380.98 1207.13L389.98 1198.13" stroke="#0000ff" stroke-width="1.8"/>
<path d="M415.24 1197.07L424.24 1206.07M415.24 1206.07L424.24 1197.07" stroke="#0000ff" stroke-width="1.8"/>
<path d="M449.5 1196.54L458.5 1205.54M449.5 1205.54L458.5 1196.54" stroke="#0000ff" stroke-width="1.8"/>
<rect x="106.8" y="997.15" width="9.2" height="9.2" fill="none" stroke="#7e2f8e" stroke-width="1.8"/>
<rect x="141.06" y="1036.4" width="9.2" height="9.2" fill="none" stroke="#7e2f8e" stroke-width="1.8"/>
<rect x="209.58" y="1114.92" width="9.2" height="9.2" fill="none" stroke="#7e2f8e" stroke-width="1.8"/>
<rect x="243.84" y="1154.17" width="9.2" height="9.2" fill="none" stroke="#7e2f8e" stroke-width="1.8"/>
<rect x="250.69" y="1162.03" width="9.2" height="9.2" fill="none" stroke="#7e2f8e" stroke-width="1.8"/>
<rect x="257.54" y="1169.88" width="9.2" height="9.2" fill="none" stroke="#7e2f8e" stroke-width="1.8"/>
<rect x="264.4" y="1177.73" width="9.2" height="9.2" fill="none" stroke="#7e2f8e" stroke-width="1.8"/>
<rect x="271.25" y="1185.58" width="9.2" height="9.2" fill="none" stroke="#7e2f8e" stroke-width="1.8"/>
<rect x="278.1" y="1193.43" width="9.2" height="9.2" fill="none" stroke="#7e2f8e" stroke-width="1.8"/>
<rect x="281.53" y="1197.36" width="9.2" height="9.2" fill="none" stroke="#7e2f8e" stroke-width="1.8"/>
<rect x="284.95" y="1201.28" width="9.2" height="9.2" fill="none" stroke="#7e2f8e" stroke-width="1.8"/>
<rect x="287.01" y="1203.64" width="9.2" height="9.2" fill="none" stroke="#7e2f8e" stroke-width="1.8"/>
<rect x="289.06" y="1205.99" width="9.2" height="9.2" fill="none" stroke="#7e2f8e" stroke-width="1.8"/>
<rect x="290.43" y="1207.56" width="9.2" height="9.2" fill="none" stroke="#7e2f8e" stroke-width="1.8"/>
<rect x="291.12" y="1208.35" width="9.2" height="9.2" fill="none" stroke="#7e2f8e" stroke-width="1.8"/>
<rect x="291.8" y="1209.13" width="9.2" height="9.2" fill="none" stroke="#7e2f8e" stroke-width="1.8"/>
<rect x="292.15" y="1209.53" width="9.2" height="9.2" fill="none" stroke="#7e2f8e" stroke-width="1.8"/>
<rect x="292.3" y="1212.35" width="9.2" height="9.2" fill="none" stroke="#7e2f8e" stroke-width="1.8"/>
<rect x="292.49" y="1207.58" width="9.2" height="9.2" fill="none" stroke="#7e2f8e" stroke-width="1.8"/>
<rect x="298.66" y="1204.93" width="9.2" height="9.2" fill="none" stroke="#7e2f8e" stroke-width="1.8"/>
<rect x="305.51" y="1204.26" width="9.2" height="9.2" fill="none" stroke="#7e2f8e" stroke-width="1.8"/>
<rect x="312.36" y="1203.6" width="9.2" height="9.2" fill="none" stroke="#7e2f8e" stroke-width="1.8"/>
<rect x="319.21" y="1203.23" width="9.2" height="9.2" fill="none" stroke="#7e2f8e" stroke-width="1.8"/>
<rect x="326.06" y="1202.86" width="9.2" height="9.2" fill="none" stroke="#7e2f8e" stroke-width="1.8"/>
<rect x="332.92" y="1202.49" width="9.2" height="9.2" fill="none" stroke="#7e2f8e" stroke-width="1.8"/>
<rect x="339.77" y="1202.11" width="9.2" height="9.2" fill="none" stroke="#7e2f8e" stroke-width="1.8"/>
<rect x="346.62" y="1201.74" width="9.2" height="9.2" fill="none" stroke="#7e2f8e" stroke-width="1.8"/>
<rect x="380.88" y="1195.38" width="9.2" height="9.2" fill="none" stroke="#7e2f8e" stroke-width="1.8"/>
<rect x="415.14" y="1193.79" width="9.2" height="9.2" fill="none" stroke="#7e2f8e" stroke-width="1.8"/>
<rect x="449.4" y="1192.72" width="9.2" height="9.2" fill="none" stroke="#7e2f8e" stroke-width="1.8"/>
<path d="M104.4 1001.75H118.4M111.4 994.75V1008.75M106.36 996.71L116.44 1006.79M106.36 1006.79L116.44 996.71" stroke="#993300" stroke-width="1.8"/>
<path d="M138.66 1041H152.66M145.66 1034V1048M140.62 1035.96L150.7 1046.04M140.62 1046.04L150.7 1035.96" stroke="#993300" stroke-width="1.8"/>
<path d="M207.18 1119.52H221.18M214.18 1112.52V1126.52M209.14 1114.48L219.22 1124.56M209.14 1124.56L219.22 1114.48" stroke="#993300" stroke-width="1.8"/>
<path d="M241.44 1158.77H255.44M248.44 1151.77V1165.77M243.4 1153.73L253.48 1163.81M243.4 1163.81L253.48 1153.73" stroke="#993300" stroke-width="1.8"/>
<path d="M248.29 1166.63H262.29M255.29 1159.63V1173.63M250.25 1161.59L260.33 1171.67M250.25 1171.67L260.33 1161.59" stroke="#993300" stroke-width="1.8"/>
<path d="M255.14 1174.48H269.14M262.14 1167.48V1181.48M257.1 1169.44L267.18 1179.52M257.1 1179.52L267.18 1169.44" stroke="#993300" stroke-width="1.8"/>
<path d="M262 1182.33H276M269 1175.33V1189.33M263.96 1177.29L274.04 1187.37M263.96 1187.37L274.04 1177.29" stroke="#993300" stroke-width="1.8"/>
<path d="M268.85 1190.18H282.85M275.85 1183.18V1197.18M270.81 1185.14L280.89 1195.22M270.81 1195.22L280.89 1185.14" stroke="#993300" stroke-width="1.8"/>
<path d="M275.7 1198.03H289.7M282.7 1191.03V1205.03M277.66 1192.99L287.74 1203.07M277.66 1203.07L287.74 1192.99" stroke="#993300" stroke-width="1.8"/>
<path d="M279.13 1201.96H293.13M286.13 1194.96V1208.96M281.09 1196.92L291.17 1207M281.09 1207L291.17 1196.92" stroke="#993300" stroke-width="1.8"/>
<path d="M282.55 1205.88H296.55M289.55 1198.88V1212.88M284.51 1200.84L294.59 1210.92M284.51 1210.92L294.59 1200.84" stroke="#993300" stroke-width="1.8"/>
<path d="M284.61 1208.24H298.61M291.61 1201.24V1215.24M286.57 1203.2L296.65 1213.28M286.57 1213.28L296.65 1203.2" stroke="#993300" stroke-width="1.8"/>
<path d="M286.66 1210.59H300.66M293.66 1203.59V1217.59M288.62 1205.55L298.7 1215.63M288.62 1215.63L298.7 1205.55" stroke="#993300" stroke-width="1.8"/>
<path d="M288.03 1212.16H302.03M295.03 1205.16V1219.16M289.99 1207.12L300.07 1217.2M289.99 1217.2L300.07 1207.12" stroke="#993300" stroke-width="1.8"/>
<path d="M288.72 1212.95H302.72M295.72 1205.95V1219.95M290.68 1207.91L300.76 1217.99M290.68 1217.99L300.76 1207.91" stroke="#993300" stroke-width="1.8"/>
<path d="M289.4 1213.73H303.4M296.4 1206.73V1220.73M291.36 1208.69L301.44 1218.77M291.36 1218.77L301.44 1208.69" stroke="#993300" stroke-width="1.8"/>
<path d="M289.75 1214.13H303.75M296.75 1207.13V1221.13M291.71 1209.09L301.79 1219.17M291.71 1219.17L301.79 1209.09" stroke="#993300" stroke-width="1.8"/>
<path d="M289.9 1216.95H303.9M296.9 1209.95V1223.95M291.86 1211.91L301.94 1221.99M291.86 1221.99L301.94 1211.91" stroke="#993300" stroke-width="1.8"/>
<path d="M290.09 1212.18H304.09M297.09 1205.18V1219.18M292.05 1207.14L302.13 1217.22M292.05 1217.22L302.13 1207.14" stroke="#993300" stroke-width="1.8"/>
<path d="M296.26 1209.53H310.26M303.26 1202.53V1216.53M298.22 1204.49L308.3 1214.57M298.22 1214.57L308.3 1204.49" stroke="#993300" stroke-width="1.8"/>
<path d="M303.11 1208.86H317.11M310.11 1201.86V1215.86M305.07 1203.82L315.15 1213.9M305.07 1213.9L315.15 1203.82" stroke="#993300" stroke-width="1.8"/>
<path d="M309.96 1208.2H323.96M316.96 1201.2V1215.2M311.92 1203.16L322 1213.24M311.92 1213.24L322 1203.16" stroke="#993300" stroke-width="1.8"/>
<path d="M316.81 1207.83H330.81M323.81 1200.83V1214.83M318.77 1202.79L328.85 1212.87M318.77 1212.87L328.85 1202.79" stroke="#993300" stroke-width="1.8"/>
<path d="M323.66 1207.46H337.66M330.66 1200.46V1214.46M325.62 1202.42L335.7 1212.5M325.62 1212.5L335.7 1202.42" stroke="#993300" stroke-width="1.8"/>
<path d="M330.52 1207.09H344.52M337.52 1200.09V1214.09M332.48 1202.05L342.56 1212.13M332.48 1212.13L342.56 1202.05" stroke="#993300" stroke-width="1.8"/>
<path d="M337.37 1206.71H351.37M344.37 1199.71V1213.71M339.33 1201.67L349.41 1211.75M339.33 1211.75L349.41 1201.67" stroke="#993300" stroke-width="1.8"/>
<path d="M344.22 1206.34H358.22M351.22 1199.34V1213.34M346.18 1201.3L356.26 1211.38M346.18 1211.38L356.26 1201.3" stroke="#993300" stroke-width="1.8"/>
<path d="M378.48 1199.98H392.48M385.48 1192.98V1206.98M380.44 1194.94L390.52 1205.02M380.44 1205.02L390.52 1194.94" stroke="#993300" stroke-width="1.8"/>
<path d="M412.74 1198.38H426.74M419.74 1191.38V1205.38M414.7 1193.35L424.78 1203.42M414.7 1203.42L424.78 1193.35" stroke="#993300" stroke-width="1.8"/>
<path d="M447 1197.32H461M454 1190.32V1204.32M448.96 1192.28L459.04 1202.36M448.96 1202.36L459.04 1192.28" stroke="#993300" stroke-width="1.8"/>
<polygon points="111.4,994.52 119.2,1007.52 103.6,1007.52" fill="none" stroke="#0072bd" stroke-width="2"/>
<polygon points="145.66,1033.51 153.46,1046.51 137.86,1046.51" fill="none" stroke="#0072bd" stroke-width="2"/>
<polygon points="214.18,1111.49 221.98,1124.49 206.38,1124.49" fill="none" stroke="#0072bd" stroke-width="2"/>
<polygon points="297.09,1205.63 304.89,1218.63 289.29,1218.63" fill="none" stroke="#0072bd" stroke-width="2"/>
<polygon points="303.26,1202.98 311.06,1215.98 295.46,1215.98" fill="none" stroke="#0072bd" stroke-width="2"/>
<polygon points="310.11,1202.32 317.91,1215.32 302.31,1215.32" fill="none" stroke="#0072bd" stroke-width="2"/>
<polygon points="316.96,1201.65 324.76,1214.65 309.16,1214.65" fill="none" stroke="#0072bd" stroke-width="2"/>
<polygon points="323.81,1201.28 331.61,1214.28 316.01,1214.28" fill="none" stroke="#0072bd" stroke-width="2"/>
<polygon points="330.66,1200.91 338.46,1213.91 322.86,1213.91" fill="none" stroke="#0072bd" stroke-width="2"/>
<polygon points="337.52,1200.54 345.32,1213.54 329.72,1213.54" fill="none" stroke="#0072bd" stroke-width="2"/>
<polygon points="344.37,1200.17 352.17,1213.17 336.57,1213.17" fill="none" stroke="#0072bd" stroke-width="2"/>
<polygon points="351.22,1199.8 359.02,1212.8 343.42,1212.8" fill="none" stroke="#0072bd" stroke-width="2"/>
<polygon points="385.48,1195.02 393.28,1208.02 377.68,1208.02" fill="none" stroke="#0072bd" stroke-width="2"/>
<polygon points="419.74,1193.96 427.54,1206.96 411.94,1206.96" fill="none" stroke="#0072bd" stroke-width="2"/>
<polygon points="454,1193.43 461.8,1206.43 446.2,1206.43" fill="none" stroke="#0072bd" stroke-width="2"/>
<polygon points="111.4,994.18 117.4,1003.18 111.4,1012.18 105.4,1003.18" fill="none" stroke="#000" stroke-width="2.3"/>
<polygon points="145.66,1033.17 151.66,1042.17 145.66,1051.17 139.66,1042.17" fill="none" stroke="#000" stroke-width="2.3"/>
<polygon points="214.18,1111.16 220.18,1120.16 214.18,1129.16 208.18,1120.16" fill="none" stroke="#000" stroke-width="2.3"/>
<polygon points="248.44,1150.15 254.44,1159.15 248.44,1168.15 242.44,1159.15" fill="none" stroke="#000" stroke-width="2.3"/>
<polygon points="255.29,1158.69 261.29,1167.69 255.29,1176.69 249.29,1167.69" fill="none" stroke="#000" stroke-width="2.3"/>
<polygon points="262.14,1167.23 268.14,1176.23 262.14,1185.23 256.14,1176.23" fill="none" stroke="#000" stroke-width="2.3"/>
<polygon points="269,1175.77 275,1184.77 269,1193.77 263,1184.77" fill="none" stroke="#000" stroke-width="2.3"/>
<polygon points="275.85,1184.31 281.85,1193.31 275.85,1202.31 269.85,1193.31" fill="none" stroke="#000" stroke-width="2.3"/>
<polygon points="282.7,1192.86 288.7,1201.86 282.7,1210.86 276.7,1201.86" fill="none" stroke="#000" stroke-width="2.3"/>
<polygon points="286.13,1196.75 292.13,1205.75 286.13,1214.75 280.13,1205.75" fill="none" stroke="#000" stroke-width="2.3"/>
<polygon points="289.55,1200.65 295.55,1209.65 289.55,1218.65 283.55,1209.65" fill="none" stroke="#000" stroke-width="2.3"/>
<polygon points="291.61,1202.99 297.61,1211.99 291.61,1220.99 285.61,1211.99" fill="none" stroke="#000" stroke-width="2.3"/>
<polygon points="293.66,1205.33 299.66,1214.33 293.66,1223.33 287.66,1214.33" fill="none" stroke="#000" stroke-width="2.3"/>
<polygon points="295.03,1206.89 301.03,1215.89 295.03,1224.89 289.03,1215.89" fill="none" stroke="#000" stroke-width="2.3"/>
<polygon points="295.72,1207.67 301.72,1216.67 295.72,1225.67 289.72,1216.67" fill="none" stroke="#000" stroke-width="2.3"/>
<polygon points="296.4,1208.45 302.4,1217.45 296.4,1226.45 290.4,1217.45" fill="none" stroke="#000" stroke-width="2.3"/>
<polygon points="296.75,1208.84 302.75,1217.84 296.75,1226.84 290.75,1217.84" fill="none" stroke="#000" stroke-width="2.3"/>
<polygon points="296.9,1212.2 302.9,1221.2 296.9,1230.2 290.9,1221.2" fill="none" stroke="#000" stroke-width="2.3"/>
<polygon points="297.09,1204.24 303.09,1213.24 297.09,1222.24 291.09,1213.24" fill="none" stroke="#000" stroke-width="2.3"/>
<polygon points="303.26,1201.59 309.26,1210.59 303.26,1219.59 297.26,1210.59" fill="none" stroke="#000" stroke-width="2.3"/>
<polygon points="310.11,1200.92 316.11,1209.92 310.11,1218.92 304.11,1209.92" fill="none" stroke="#000" stroke-width="2.3"/>
<polygon points="316.96,1200.26 322.96,1209.26 316.96,1218.26 310.96,1209.26" fill="none" stroke="#000" stroke-width="2.3"/>
<polygon points="323.81,1199.89 329.81,1208.89 323.81,1217.89 317.81,1208.89" fill="none" stroke="#000" stroke-width="2.3"/>
<polygon points="330.66,1199.52 336.66,1208.52 330.66,1217.52 324.66,1208.52" fill="none" stroke="#000" stroke-width="2.3"/>
<polygon points="337.52,1199.15 343.52,1208.15 337.52,1217.15 331.52,1208.15" fill="none" stroke="#000" stroke-width="2.3"/>
<polygon points="344.37,1198.77 350.37,1207.77 344.37,1216.77 338.37,1207.77" fill="none" stroke="#000" stroke-width="2.3"/>
<polygon points="351.22,1198.4 357.22,1207.4 351.22,1216.4 345.22,1207.4" fill="none" stroke="#000" stroke-width="2.3"/>
<polygon points="385.48,1193.63 391.48,1202.63 385.48,1211.63 379.48,1202.63" fill="none" stroke="#000" stroke-width="2.3"/>
<polygon points="419.74,1192.57 425.74,1201.57 419.74,1210.57 413.74,1201.57" fill="none" stroke="#000" stroke-width="2.3"/>
<polygon points="454,1192.04 460,1201.04 454,1210.04 448,1201.04" fill="none" stroke="#000" stroke-width="2.3"/>
<polygon points="248.44,1150.48 256.24,1163.48 240.64,1163.48" fill="none" stroke="#0072bd" stroke-width="2"/>
<polygon points="255.29,1158.28 263.09,1171.28 247.49,1171.28" fill="none" stroke="#0072bd" stroke-width="2"/>
<polygon points="262.14,1166.08 269.94,1179.08 254.34,1179.08" fill="none" stroke="#0072bd" stroke-width="2"/>
<polygon points="269,1173.88 276.8,1186.88 261.2,1186.88" fill="none" stroke="#0072bd" stroke-width="2"/>
<polygon points="275.85,1181.68 283.65,1194.68 268.05,1194.68" fill="none" stroke="#0072bd" stroke-width="2"/>
<polygon points="282.7,1189.48 290.5,1202.48 274.9,1202.48" fill="none" stroke="#0072bd" stroke-width="2"/>
<polygon points="286.13,1193.37 293.93,1206.37 278.33,1206.37" fill="none" stroke="#0072bd" stroke-width="2"/>
<polygon points="289.55,1197.27 297.35,1210.27 281.75,1210.27" fill="none" stroke="#0072bd" stroke-width="2"/>
<polygon points="291.61,1199.61 299.41,1212.61 283.81,1212.61" fill="none" stroke="#0072bd" stroke-width="2"/>
<polygon points="293.66,1201.95 301.46,1214.95 285.86,1214.95" fill="none" stroke="#0072bd" stroke-width="2"/>
<polygon points="295.03,1203.51 302.83,1216.51 287.23,1216.51" fill="none" stroke="#0072bd" stroke-width="2"/>
<polygon points="295.72,1204.29 303.52,1217.29 287.92,1217.29" fill="none" stroke="#0072bd" stroke-width="2"/>
<polygon points="296.4,1205.07 304.2,1218.07 288.6,1218.07" fill="none" stroke="#0072bd" stroke-width="2"/>
<polygon points="296.75,1205.46 304.55,1218.46 288.95,1218.46" fill="none" stroke="#0072bd" stroke-width="2"/>
<polygon points="296.9,1209.88 304.7,1222.88 289.1,1222.88" fill="none" stroke="#0072bd" stroke-width="2"/>
<polyline points="111.4,1001.75 145.66,1041 214.18,1119.52 248.44,1158.77 255.29,1166.63 262.14,1174.48 269,1182.33 275.85,1190.18 282.7,1198.03 286.13,1201.96 289.55,1205.88 291.61,1208.24 293.66,1210.59 295.03,1212.16 295.72,1212.95 296.4,1213.73 296.75,1214.13 296.9,1216.95 297.09,1212.18 303.26,1209.53 310.11,1208.86 316.96,1208.2 323.81,1207.83 330.66,1207.46 337.52,1207.09 344.37,1206.71 351.22,1206.34 385.48,1199.98 419.74,1198.38 454,1197.32" fill="none" stroke="#993300" stroke-width="2.2" stroke-linejoin="round"/>
<polyline points="111.4,1001.75 145.66,1041 214.18,1119.52 248.44,1158.77 255.29,1166.63 262.14,1174.48 269,1182.33 275.85,1190.18 282.7,1198.03 286.13,1201.96 289.55,1205.88 291.61,1208.24 293.66,1210.59 295.03,1212.16 295.72,1212.95 296.4,1213.73 296.75,1214.13 296.9,1216.95 297.09,1212.18 303.26,1209.53 310.11,1208.86 316.96,1208.2 323.81,1207.83 330.66,1207.46 337.52,1207.09 344.37,1206.71 351.22,1206.34 385.48,1199.98 419.74,1198.38 454,1197.32" fill="none" stroke="#7e2f8e" stroke-width="2.2" stroke-linejoin="round"/>
<polyline points="111.4,1003.18 145.66,1042.17 214.18,1120.16 248.44,1159.15 255.29,1166.95 262.14,1174.75 269,1182.55 275.85,1190.34 282.7,1198.14 286.13,1202.04 289.55,1205.94 291.61,1208.28 293.66,1210.62 295.03,1212.18 295.72,1212.96 296.4,1213.74 296.75,1214.13 296.9,1216.95 297.09,1213.24 303.26,1210.59 310.11,1209.92 316.96,1209.26 323.81,1208.89 330.66,1208.52 337.52,1208.15 344.37,1207.77 351.22,1207.4 385.48,1202.63 419.74,1201.57 454,1201.04" fill="none" stroke="#0000ff" stroke-width="2.2" stroke-linejoin="round"/>
<polyline points="111.4,1003.18 145.66,1042.17 214.18,1120.16 248.44,1159.15 255.29,1166.95 262.14,1174.75 269,1182.55 275.85,1190.34 282.7,1198.14 286.13,1202.04 289.55,1205.94 291.61,1208.28 293.66,1210.62 295.03,1212.18 295.72,1212.96 296.4,1213.74 296.75,1214.13 296.9,1216.95 297.09,1213.24 303.26,1210.59 310.11,1209.92 316.96,1209.26 323.81,1208.89 330.66,1208.52 337.52,1208.15 344.37,1207.77 351.22,1207.4 385.48,1202.63 419.74,1201.57 454,1201.04" fill="none" stroke="#ff00ff" stroke-width="2.2" stroke-linejoin="round"/>
<polyline points="111.4,1003.18 145.66,1042.17 214.18,1120.16 248.44,1159.15 255.29,1167.69 262.14,1176.23 269,1184.77 275.85,1193.31 282.7,1201.86 286.13,1205.75 289.55,1209.65 291.61,1211.99 293.66,1214.33 295.03,1215.89 295.72,1216.67 296.4,1217.45 296.75,1217.84 296.9,1221.2 297.09,1213.24 303.26,1210.59 310.11,1209.92 316.96,1209.26 323.81,1208.89 330.66,1208.52 337.52,1208.15 344.37,1207.77 351.22,1207.4 385.48,1202.63 419.74,1201.57 454,1201.04" fill="none" stroke="#000" stroke-width="2.2" stroke-linejoin="round"/>
<polyline points="111.4,1003.18 145.66,1042.17 214.18,1120.16 248.44,1159.15 255.29,1166.95 262.14,1174.75 269,1182.55 275.85,1190.34 282.7,1198.14 286.13,1202.04 289.55,1205.94 291.61,1208.28 293.66,1210.62 295.03,1212.18 295.72,1212.96 296.4,1213.74 296.75,1214.13 296.9,1218.54 297.09,1214.3 303.26,1211.65 310.11,1210.98 316.96,1210.32 323.81,1209.95 330.66,1209.58 337.52,1209.21 344.37,1208.84 351.22,1208.46 385.48,1203.69 419.74,1202.63 454,1202.1" fill="none" stroke="#0072bd" stroke-width="2.2" stroke-linejoin="round"/>
<text transform="translate(111.4 1264) scale(0.950 1)" font-size="41" text-anchor="middle" style="stroke-width:0.40px">-3</text>
<text transform="translate(179.92 1264) scale(0.950 1)" font-size="41" text-anchor="middle" style="stroke-width:0.40px">-2</text>
<text transform="translate(248.44 1264) scale(0.950 1)" font-size="41" text-anchor="middle" style="stroke-width:0.40px">-1</text>
<text transform="translate(316.96 1264) scale(0.950 1)" font-size="41" text-anchor="middle" style="stroke-width:0.40px">0</text>
<text transform="translate(385.48 1264) scale(0.950 1)" font-size="41" text-anchor="middle" style="stroke-width:0.40px">1</text>
<text transform="translate(454 1264) scale(0.950 1)" font-size="41" text-anchor="middle" style="stroke-width:0.40px">2</text>
<text transform="translate(98.8 1227.8) scale(0.950 1)" font-size="41" text-anchor="end" style="stroke-width:0.40px">0</text>
<text transform="translate(98.8 1121.7) scale(0.950 1)" font-size="41" text-anchor="end" style="stroke-width:0.40px">2</text>
<text transform="translate(98.8 1015.6) scale(0.950 1)" font-size="41" text-anchor="end" style="stroke-width:0.40px">4</text>
<text transform="translate(98.8 909.5) scale(0.950 1)" font-size="41" text-anchor="end" style="stroke-width:0.40px">6</text>
<text transform="translate(272.26 1296.9) scale(1.0481 1)" font-size="43.48" style="stroke-width:0.42px">z</text>
<text transform="translate(76.7 1096.29) rotate(-90) scale(1.1225 1)" font-size="48.03" style="stroke-width:0.47px">Δ</text>
<text transform="translate(76.7 1058.22) rotate(-90) scale(1.0738 1)" font-size="48.40" font-style="italic" style="stroke-width:0.47px">E</text>
<text transform="translate(128.69 949.16) scale(0.9870 1)" font-size="32.75" style="stroke-width:0.32px">L=16(PBC) ED</text>
<text transform="translate(174.91 990.06) scale(1.0270 1)" font-size="34.37" font-style="italic" style="stroke-width:0.34px">θ</text>
<text transform="translate(202.06 992.29) scale(1.3000 1)" font-size="33.60" style="stroke-width:0.33px">=</text>
<text transform="translate(240.77 976.29) scale(1.2112 1)" font-size="21.28" font-style="italic" style="stroke-width:0.21px">π</text>
<line x1="240.4" y1="981.2" x2="254.8" y2="981.2" stroke="#000" stroke-width="1.6"/>
<text transform="translate(241.25 1001.9) scale(1.0384 1)" font-size="24.43" style="stroke-width:0.24px">7</text>
<line x1="334.9" y1="921" x2="378.7" y2="921" stroke="#ff0000" stroke-width="2"/>
<circle cx="356.6" cy="921" r="6" fill="none" stroke="#ff0000" stroke-width="1.8"/>
<text transform="translate(383.15 926.9) scale(1.2788 1)" font-size="27.88" style="stroke-width:0.27px">Δ</text>
<text transform="translate(407.6 926.9) scale(1.1963 1)" font-size="28.09" font-style="italic" style="stroke-width:0.27px">E</text>
<text transform="translate(426.11 931.9) scale(0.9615 1)" font-size="20.45" style="stroke-width:0.20px">21</text>
<line x1="334.9" y1="954.4" x2="378.7" y2="954.4" stroke="#000" stroke-width="2"/>
<polygon points="356.6,945.8 362.79,954.4 356.6,963 350.41,954.4" fill="none" stroke="#000" stroke-width="1.9"/>
<text transform="translate(383.15 960.3) scale(1.2788 1)" font-size="27.88" style="stroke-width:0.27px">Δ</text>
<text transform="translate(407.6 960.3) scale(1.1963 1)" font-size="28.09" font-style="italic" style="stroke-width:0.27px">E</text>
<text transform="translate(426.01 965.1) scale(0.9815 1)" font-size="20.15" style="stroke-width:0.20px">31</text>
<line x1="334.9" y1="988" x2="378.7" y2="988" stroke="#0072bd" stroke-width="2"/>
<polygon points="356.6,979.3 364.2,992.3 349,992.3" fill="none" stroke="#0072bd" stroke-width="1.8"/>
<text transform="translate(383.15 993.9) scale(1.2788 1)" font-size="27.88" style="stroke-width:0.27px">Δ</text>
<text transform="translate(407.6 993.9) scale(1.1963 1)" font-size="28.09" font-style="italic" style="stroke-width:0.27px">E</text>
<text transform="translate(426.61 998.9) scale(0.9355 1)" font-size="20.45" style="stroke-width:0.20px">41</text>
<line x1="334.9" y1="1021.6" x2="378.7" y2="1021.6" stroke="#ff00ff" stroke-width="2"/>
<path d="M349.4 1021.6H363.8M356.6 1014.4V1028.8" stroke="#ff00ff" stroke-width="1.8"/>
<text transform="translate(383.15 1027.5) scale(1.2788 1)" font-size="27.88" style="stroke-width:0.27px">Δ</text>
<text transform="translate(407.6 1027.5) scale(1.1963 1)" font-size="28.09" font-style="italic" style="stroke-width:0.27px">E</text>
<text transform="translate(425.8 1032.3) scale(0.9926 1)" font-size="20.15" style="stroke-width:0.20px">51</text>
<line x1="334.9" y1="1055.4" x2="378.7" y2="1055.4" stroke="#0000ff" stroke-width="2"/>
<path d="M351.8 1050.6L361.4 1060.2M351.8 1060.2L361.4 1050.6" stroke="#0000ff" stroke-width="2"/>
<text transform="translate(383.15 1061.3) scale(1.2788 1)" font-size="27.88" style="stroke-width:0.27px">Δ</text>
<text transform="translate(407.6 1061.3) scale(1.1963 1)" font-size="28.09" font-style="italic" style="stroke-width:0.27px">E</text>
<text transform="translate(426.11 1066.1) scale(0.9760 1)" font-size="20.15" style="stroke-width:0.20px">61</text>
<line x1="334.9" y1="1089.2" x2="378.7" y2="1089.2" stroke="#7e2f8e" stroke-width="2"/>
<rect x="351.9" y="1084.5" width="9.4" height="9.4" fill="none" stroke="#7e2f8e" stroke-width="1.9"/>
<text transform="translate(383.15 1095.1) scale(1.2788 1)" font-size="27.88" style="stroke-width:0.27px">Δ</text>
<text transform="translate(407.6 1095.1) scale(1.1963 1)" font-size="28.09" font-style="italic" style="stroke-width:0.27px">E</text>
<text transform="translate(425.59 1100.1) scale(0.9890 1)" font-size="20.45" style="stroke-width:0.20px">71</text>
<line x1="334.9" y1="1123" x2="378.7" y2="1123" stroke="#993300" stroke-width="2"/>
<path d="M349.4 1123H363.8M356.6 1115.8V1130.2M351.42 1117.82L361.78 1128.18M351.42 1128.18L361.78 1117.82" stroke="#993300" stroke-width="1.9"/>
<text transform="translate(383.15 1128.9) scale(1.2788 1)" font-size="27.88" style="stroke-width:0.27px">Δ</text>
<text transform="translate(407.6 1128.9) scale(1.1963 1)" font-size="28.09" font-style="italic" style="stroke-width:0.27px">E</text>
<text transform="translate(426.22 1133.7) scale(0.9779 1)" font-size="20.00" style="stroke-width:0.20px">81</text>
<text transform="translate(502.05 913.35) scale(0.9763 1)" font-size="44.89" style="stroke-width:0.44px">(f)</text>
<line x1="755.52" y1="1213.4" x2="755.52" y2="1208.9" stroke="#1a1a1a" stroke-width="1.6"/>
<line x1="755.52" y1="895.8" x2="755.52" y2="900.3" stroke="#1a1a1a" stroke-width="1.6"/>
<line x1="590.5" y1="1213.4" x2="595" y2="1213.4" stroke="#1a1a1a" stroke-width="1.6"/>
<line x1="934.3" y1="1213.4" x2="929.8" y2="1213.4" stroke="#1a1a1a" stroke-width="1.6"/>
<line x1="590.5" y1="1054.6" x2="595" y2="1054.6" stroke="#1a1a1a" stroke-width="1.6"/>
<line x1="934.3" y1="1054.6" x2="929.8" y2="1054.6" stroke="#1a1a1a" stroke-width="1.6"/>
<line x1="590.5" y1="895.8" x2="595" y2="895.8" stroke="#1a1a1a" stroke-width="1.6"/>
<line x1="934.3" y1="895.8" x2="929.8" y2="895.8" stroke="#1a1a1a" stroke-width="1.6"/>
<rect x="590.5" y="895.8" width="343.8" height="317.6" fill="none" stroke="#1a1a1a" stroke-width="2.4" stroke-linejoin="miter"/>
<polyline points="590.5,1213.4 604.25,1213.4 618,1213.4 631.76,1213.4 645.51,1213.4 659.26,1213.4 673.01,1213.4 686.76,1213.4 700.52,1213.4 714.27,1213.4 728.02,1213.4 741.77,1213.4 755.52,1213.4 769.28,1213.4 783.03,1213.4 796.78,1213.4 810.53,1213.4 824.28,1213.4 838.04,1213.4 851.79,1213.4 865.54,1213.4 879.29,1213.4 893.04,1213.4 906.8,1213.4 920.55,1213.4 934.3,1213.4" fill="none" stroke="#ff0000" stroke-width="2.3" stroke-linejoin="round"/>
<circle cx="590.5" cy="1213.4" r="5.9" fill="none" stroke="#ff0000" stroke-width="2.1"/>
<circle cx="604.25" cy="1213.4" r="5.9" fill="none" stroke="#ff0000" stroke-width="2.1"/>
<circle cx="618" cy="1213.4" r="5.9" fill="none" stroke="#ff0000" stroke-width="2.1"/>
<circle cx="631.76" cy="1213.4" r="5.9" fill="none" stroke="#ff0000" stroke-width="2.1"/>
<circle cx="645.51" cy="1213.4" r="5.9" fill="none" stroke="#ff0000" stroke-width="2.1"/>
<circle cx="659.26" cy="1213.4" r="5.9" fill="none" stroke="#ff0000" stroke-width="2.1"/>
<circle cx="673.01" cy="1213.4" r="5.9" fill="none" stroke="#ff0000" stroke-width="2.1"/>
<circle cx="686.76" cy="1213.4" r="5.9" fill="none" stroke="#ff0000" stroke-width="2.1"/>
<circle cx="700.52" cy="1213.4" r="5.9" fill="none" stroke="#ff0000" stroke-width="2.1"/>
<circle cx="714.27" cy="1213.4" r="5.9" fill="none" stroke="#ff0000" stroke-width="2.1"/>
<circle cx="728.02" cy="1213.4" r="5.9" fill="none" stroke="#ff0000" stroke-width="2.1"/>
<circle cx="741.77" cy="1213.4" r="5.9" fill="none" stroke="#ff0000" stroke-width="2.1"/>
<circle cx="755.52" cy="1213.4" r="5.9" fill="none" stroke="#ff0000" stroke-width="2.1"/>
<circle cx="769.28" cy="1213.4" r="5.9" fill="none" stroke="#ff0000" stroke-width="2.1"/>
<circle cx="783.03" cy="1213.4" r="5.9" fill="none" stroke="#ff0000" stroke-width="2.1"/>
<circle cx="796.78" cy="1213.4" r="5.9" fill="none" stroke="#ff0000" stroke-width="2.1"/>
<circle cx="810.53" cy="1213.4" r="5.9" fill="none" stroke="#ff0000" stroke-width="2.1"/>
<circle cx="824.28" cy="1213.4" r="5.9" fill="none" stroke="#ff0000" stroke-width="2.1"/>
<circle cx="838.04" cy="1213.4" r="5.9" fill="none" stroke="#ff0000" stroke-width="2.1"/>
<circle cx="851.79" cy="1213.4" r="5.9" fill="none" stroke="#ff0000" stroke-width="2.1"/>
<circle cx="865.54" cy="1213.4" r="5.9" fill="none" stroke="#ff0000" stroke-width="2.1"/>
<circle cx="879.29" cy="1213.4" r="5.9" fill="none" stroke="#ff0000" stroke-width="2.1"/>
<circle cx="893.04" cy="1213.4" r="5.9" fill="none" stroke="#ff0000" stroke-width="2.1"/>
<circle cx="906.8" cy="1213.4" r="5.9" fill="none" stroke="#ff0000" stroke-width="2.1"/>
<circle cx="920.55" cy="1213.4" r="5.9" fill="none" stroke="#ff0000" stroke-width="2.1"/>
<circle cx="934.3" cy="1213.4" r="5.9" fill="none" stroke="#ff0000" stroke-width="2.1"/>
<polyline points="590.5,1067.7 604.25,1079.55 618,1091.39 631.76,1103.24 645.51,1115.08 659.26,1126.93 673.01,1138.77 686.76,1150.62 700.52,1162.46 714.27,1174.31 728.02,1186.16 741.77,1198 755.52,1209.85 769.28,1206.85 783.03,1197.5 796.78,1188.15 810.53,1178.79 824.28,1169.44 838.04,1160.09 851.79,1150.74 865.54,1141.38 879.29,1132.03 893.04,1122.68 906.8,1113.32 920.55,1103.97 934.3,1094.62" fill="none" stroke="#000" stroke-width="2.3" stroke-linejoin="round"/>
<polygon points="590.5,1061.1 595.25,1067.7 590.5,1074.3 585.75,1067.7" fill="none" stroke="#000" stroke-width="2.1"/>
<polygon points="604.25,1072.95 609,1079.55 604.25,1086.15 599.5,1079.55" fill="none" stroke="#000" stroke-width="2.1"/>
<polygon points="618,1084.79 622.76,1091.39 618,1097.99 613.25,1091.39" fill="none" stroke="#000" stroke-width="2.1"/>
<polygon points="631.76,1096.64 636.51,1103.24 631.76,1109.84 627,1103.24" fill="none" stroke="#000" stroke-width="2.1"/>
<polygon points="645.51,1108.48 650.26,1115.08 645.51,1121.68 640.76,1115.08" fill="none" stroke="#000" stroke-width="2.1"/>
<polygon points="659.26,1120.33 664.01,1126.93 659.26,1133.53 654.51,1126.93" fill="none" stroke="#000" stroke-width="2.1"/>
<polygon points="673.01,1132.17 677.76,1138.77 673.01,1145.37 668.26,1138.77" fill="none" stroke="#000" stroke-width="2.1"/>
<polygon points="686.76,1144.02 691.52,1150.62 686.76,1157.22 682.01,1150.62" fill="none" stroke="#000" stroke-width="2.1"/>
<polygon points="700.52,1155.86 705.27,1162.46 700.52,1169.06 695.76,1162.46" fill="none" stroke="#000" stroke-width="2.1"/>
<polygon points="714.27,1167.71 719.02,1174.31 714.27,1180.91 709.52,1174.31" fill="none" stroke="#000" stroke-width="2.1"/>
<polygon points="728.02,1179.56 732.77,1186.16 728.02,1192.76 723.27,1186.16" fill="none" stroke="#000" stroke-width="2.1"/>
<polygon points="741.77,1191.4 746.52,1198 741.77,1204.6 737.02,1198" fill="none" stroke="#000" stroke-width="2.1"/>
<polygon points="755.52,1203.25 760.28,1209.85 755.52,1216.45 750.77,1209.85" fill="none" stroke="#000" stroke-width="2.1"/>
<polygon points="769.28,1200.25 774.03,1206.85 769.28,1213.45 764.52,1206.85" fill="none" stroke="#000" stroke-width="2.1"/>
<polygon points="783.03,1190.9 787.78,1197.5 783.03,1204.1 778.28,1197.5" fill="none" stroke="#000" stroke-width="2.1"/>
<polygon points="796.78,1181.55 801.53,1188.15 796.78,1194.75 792.03,1188.15" fill="none" stroke="#000" stroke-width="2.1"/>
<polygon points="810.53,1172.19 815.28,1178.79 810.53,1185.39 805.78,1178.79" fill="none" stroke="#000" stroke-width="2.1"/>
<polygon points="824.28,1162.84 829.04,1169.44 824.28,1176.04 819.53,1169.44" fill="none" stroke="#000" stroke-width="2.1"/>
<polygon points="838.04,1153.49 842.79,1160.09 838.04,1166.69 833.28,1160.09" fill="none" stroke="#000" stroke-width="2.1"/>
<polygon points="851.79,1144.14 856.54,1150.74 851.79,1157.34 847.04,1150.74" fill="none" stroke="#000" stroke-width="2.1"/>
<polygon points="865.54,1134.78 870.29,1141.38 865.54,1147.98 860.79,1141.38" fill="none" stroke="#000" stroke-width="2.1"/>
<polygon points="879.29,1125.43 884.04,1132.03 879.29,1138.63 874.54,1132.03" fill="none" stroke="#000" stroke-width="2.1"/>
<polygon points="893.04,1116.08 897.8,1122.68 893.04,1129.28 888.29,1122.68" fill="none" stroke="#000" stroke-width="2.1"/>
<polygon points="906.8,1106.72 911.55,1113.32 906.8,1119.92 902.04,1113.32" fill="none" stroke="#000" stroke-width="2.1"/>
<polygon points="920.55,1097.37 925.3,1103.97 920.55,1110.57 915.8,1103.97" fill="none" stroke="#000" stroke-width="2.1"/>
<polygon points="934.3,1088.02 939.05,1094.62 934.3,1101.22 929.55,1094.62" fill="none" stroke="#000" stroke-width="2.1"/>
<polyline points="590.5,1059.76 604.25,1072.25 618,1084.74 631.76,1097.23 645.51,1109.72 659.26,1122.22 673.01,1134.71 686.76,1147.2 700.52,1159.69 714.27,1172.18 728.02,1184.67 741.77,1197.16 755.52,1209.65 769.28,1204.93 783.03,1192.83 796.78,1180.74 810.53,1168.64 824.28,1156.54 838.04,1144.44 851.79,1132.35 865.54,1120.25 879.29,1108.15 893.04,1096.05 906.8,1083.96 920.55,1071.86 934.3,1059.76" fill="none" stroke="#0072bd" stroke-width="2.3" stroke-linejoin="round"/>
<polygon points="590.5,1051.06 598.1,1064.06 582.9,1064.06" fill="none" stroke="#0072bd" stroke-width="2.1"/>
<polygon points="604.25,1063.55 611.85,1076.55 596.65,1076.55" fill="none" stroke="#0072bd" stroke-width="2.1"/>
<polygon points="618,1076.04 625.6,1089.04 610.4,1089.04" fill="none" stroke="#0072bd" stroke-width="2.1"/>
<polygon points="631.76,1088.53 639.36,1101.53 624.16,1101.53" fill="none" stroke="#0072bd" stroke-width="2.1"/>
<polygon points="645.51,1101.02 653.11,1114.02 637.91,1114.02" fill="none" stroke="#0072bd" stroke-width="2.1"/>
<polygon points="659.26,1113.52 666.86,1126.52 651.66,1126.52" fill="none" stroke="#0072bd" stroke-width="2.1"/>
<polygon points="673.01,1126.01 680.61,1139.01 665.41,1139.01" fill="none" stroke="#0072bd" stroke-width="2.1"/>
<polygon points="686.76,1138.5 694.36,1151.5 679.16,1151.5" fill="none" stroke="#0072bd" stroke-width="2.1"/>
<polygon points="700.52,1150.99 708.12,1163.99 692.92,1163.99" fill="none" stroke="#0072bd" stroke-width="2.1"/>
<polygon points="714.27,1163.48 721.87,1176.48 706.67,1176.48" fill="none" stroke="#0072bd" stroke-width="2.1"/>
<polygon points="728.02,1175.97 735.62,1188.97 720.42,1188.97" fill="none" stroke="#0072bd" stroke-width="2.1"/>
<polygon points="741.77,1188.46 749.37,1201.46 734.17,1201.46" fill="none" stroke="#0072bd" stroke-width="2.1"/>
<polygon points="755.52,1200.95 763.12,1213.95 747.92,1213.95" fill="none" stroke="#0072bd" stroke-width="2.1"/>
<polygon points="769.28,1196.23 776.88,1209.23 761.68,1209.23" fill="none" stroke="#0072bd" stroke-width="2.1"/>
<polygon points="783.03,1184.13 790.63,1197.13 775.43,1197.13" fill="none" stroke="#0072bd" stroke-width="2.1"/>
<polygon points="796.78,1172.04 804.38,1185.04 789.18,1185.04" fill="none" stroke="#0072bd" stroke-width="2.1"/>
<polygon points="810.53,1159.94 818.13,1172.94 802.93,1172.94" fill="none" stroke="#0072bd" stroke-width="2.1"/>
<polygon points="824.28,1147.84 831.88,1160.84 816.68,1160.84" fill="none" stroke="#0072bd" stroke-width="2.1"/>
<polygon points="838.04,1135.74 845.64,1148.74 830.44,1148.74" fill="none" stroke="#0072bd" stroke-width="2.1"/>
<polygon points="851.79,1123.65 859.39,1136.65 844.19,1136.65" fill="none" stroke="#0072bd" stroke-width="2.1"/>
<polygon points="865.54,1111.55 873.14,1124.55 857.94,1124.55" fill="none" stroke="#0072bd" stroke-width="2.1"/>
<polygon points="879.29,1099.45 886.89,1112.45 871.69,1112.45" fill="none" stroke="#0072bd" stroke-width="2.1"/>
<polygon points="893.04,1087.35 900.64,1100.35 885.44,1100.35" fill="none" stroke="#0072bd" stroke-width="2.1"/>
<polygon points="906.8,1075.26 914.4,1088.26 899.2,1088.26" fill="none" stroke="#0072bd" stroke-width="2.1"/>
<polygon points="920.55,1063.16 928.15,1076.16 912.95,1076.16" fill="none" stroke="#0072bd" stroke-width="2.1"/>
<polygon points="934.3,1051.06 941.9,1064.06 926.7,1064.06" fill="none" stroke="#0072bd" stroke-width="2.1"/>
<polyline points="590.5,1037.93 604.25,1052.19 618,1066.46 631.76,1080.72 645.51,1094.99 659.26,1109.26 673.01,1123.52 686.76,1137.79 700.52,1152.06 714.27,1166.32 728.02,1180.59 741.77,1194.85 755.52,1209.12 769.28,1202.07 783.03,1185.87 796.78,1169.68 810.53,1153.49 824.28,1137.29 838.04,1121.1 851.79,1104.91 865.54,1088.72 879.29,1072.52 893.04,1056.33 906.8,1040.14 920.55,1023.95 934.3,1007.75" fill="none" stroke="#ff00ff" stroke-width="2.3" stroke-linejoin="round"/>
<path d="M584 1037.93H597M590.5 1031.43V1044.43" stroke="#ff00ff" stroke-width="2.1"/>
<path d="M597.75 1052.19H610.75M604.25 1045.69V1058.69" stroke="#ff00ff" stroke-width="2.1"/>
<path d="M611.5 1066.46H624.5M618 1059.96V1072.96" stroke="#ff00ff" stroke-width="2.1"/>
<path d="M625.26 1080.72H638.26M631.76 1074.22V1087.22" stroke="#ff00ff" stroke-width="2.1"/>
<path d="M639.01 1094.99H652.01M645.51 1088.49V1101.49" stroke="#ff00ff" stroke-width="2.1"/>
<path d="M652.76 1109.26H665.76M659.26 1102.76V1115.76" stroke="#ff00ff" stroke-width="2.1"/>
<path d="M666.51 1123.52H679.51M673.01 1117.02V1130.02" stroke="#ff00ff" stroke-width="2.1"/>
<path d="M680.26 1137.79H693.26M686.76 1131.29V1144.29" stroke="#ff00ff" stroke-width="2.1"/>
<path d="M694.02 1152.06H707.02M700.52 1145.56V1158.56" stroke="#ff00ff" stroke-width="2.1"/>
<path d="M707.77 1166.32H720.77M714.27 1159.82V1172.82" stroke="#ff00ff" stroke-width="2.1"/>
<path d="M721.52 1180.59H734.52M728.02 1174.09V1187.09" stroke="#ff00ff" stroke-width="2.1"/>
<path d="M735.27 1194.85H748.27M741.77 1188.35V1201.35" stroke="#ff00ff" stroke-width="2.1"/>
<path d="M749.02 1209.12H762.02M755.52 1202.62V1215.62" stroke="#ff00ff" stroke-width="2.1"/>
<path d="M762.78 1202.07H775.78M769.28 1195.57V1208.57" stroke="#ff00ff" stroke-width="2.1"/>
<path d="M776.53 1185.87H789.53M783.03 1179.37V1192.37" stroke="#ff00ff" stroke-width="2.1"/>
<path d="M790.28 1169.68H803.28M796.78 1163.18V1176.18" stroke="#ff00ff" stroke-width="2.1"/>
<path d="M804.03 1153.49H817.03M810.53 1146.99V1159.99" stroke="#ff00ff" stroke-width="2.1"/>
<path d="M817.78 1137.29H830.78M824.28 1130.79V1143.79" stroke="#ff00ff" stroke-width="2.1"/>
<path d="M831.54 1121.1H844.54M838.04 1114.6V1127.6" stroke="#ff00ff" stroke-width="2.1"/>
<path d="M845.29 1104.91H858.29M851.79 1098.41V1111.41" stroke="#ff00ff" stroke-width="2.1"/>
<path d="M859.04 1088.72H872.04M865.54 1082.22V1095.22" stroke="#ff00ff" stroke-width="2.1"/>
<path d="M872.79 1072.52H885.79M879.29 1066.02V1079.02" stroke="#ff00ff" stroke-width="2.1"/>
<path d="M886.54 1056.33H899.54M893.04 1049.83V1062.83" stroke="#ff00ff" stroke-width="2.1"/>
<path d="M900.3 1040.14H913.3M906.8 1033.64V1046.64" stroke="#ff00ff" stroke-width="2.1"/>
<path d="M914.05 1023.95H927.05M920.55 1017.45V1030.45" stroke="#ff00ff" stroke-width="2.1"/>
<path d="M927.8 1007.75H940.8M934.3 1001.25V1014.25" stroke="#ff00ff" stroke-width="2.1"/>
<polyline points="590.5,1032.77 604.25,1047.45 618,1062.14 631.76,1076.82 645.51,1091.51 659.26,1106.19 673.01,1120.88 686.76,1135.57 700.52,1150.25 714.27,1164.94 728.02,1179.62 741.77,1194.31 755.52,1208.99 769.28,1201.85 783.03,1185.34 796.78,1168.84 810.53,1152.33 824.28,1135.83 838.04,1119.32 851.79,1102.82 865.54,1086.31 879.29,1069.8 893.04,1053.3 906.8,1036.79 920.55,1020.29 934.3,1003.78" fill="none" stroke="#0000ff" stroke-width="2.3" stroke-linejoin="round"/>
<path d="M585.62 1027.89L595.38 1037.64M585.62 1037.64L595.38 1027.89" stroke="#0000ff" stroke-width="2.3"/>
<path d="M599.38 1042.58L609.13 1052.33M599.38 1052.33L609.13 1042.58" stroke="#0000ff" stroke-width="2.3"/>
<path d="M613.13 1057.26L622.88 1067.01M613.13 1067.01L622.88 1057.26" stroke="#0000ff" stroke-width="2.3"/>
<path d="M626.88 1071.95L636.63 1081.7M626.88 1081.7L636.63 1071.95" stroke="#0000ff" stroke-width="2.3"/>
<path d="M640.63 1086.63L650.38 1096.38M640.63 1096.38L650.38 1086.63" stroke="#0000ff" stroke-width="2.3"/>
<path d="M654.38 1101.32L664.13 1111.07M654.38 1111.07L664.13 1101.32" stroke="#0000ff" stroke-width="2.3"/>
<path d="M668.14 1116L677.89 1125.75M668.14 1125.75L677.89 1116" stroke="#0000ff" stroke-width="2.3"/>
<path d="M681.89 1130.69L691.64 1140.44M681.89 1140.44L691.64 1130.69" stroke="#0000ff" stroke-width="2.3"/>
<path d="M695.64 1145.38L705.39 1155.13M695.64 1155.13L705.39 1145.38" stroke="#0000ff" stroke-width="2.3"/>
<path d="M709.39 1160.06L719.14 1169.81M709.39 1169.81L719.14 1160.06" stroke="#0000ff" stroke-width="2.3"/>
<path d="M723.14 1174.75L732.89 1184.5M723.14 1184.5L732.89 1174.75" stroke="#0000ff" stroke-width="2.3"/>
<path d="M736.9 1189.43L746.65 1199.18M736.9 1199.18L746.65 1189.43" stroke="#0000ff" stroke-width="2.3"/>
<path d="M750.65 1204.12L760.4 1213.87M750.65 1213.87L760.4 1204.12" stroke="#0000ff" stroke-width="2.3"/>
<path d="M764.4 1196.97L774.15 1206.72M764.4 1206.72L774.15 1196.97" stroke="#0000ff" stroke-width="2.3"/>
<path d="M778.15 1180.47L787.9 1190.22M778.15 1190.22L787.9 1180.47" stroke="#0000ff" stroke-width="2.3"/>
<path d="M791.9 1163.96L801.65 1173.71M791.9 1173.71L801.65 1163.96" stroke="#0000ff" stroke-width="2.3"/>
<path d="M805.66 1147.46L815.41 1157.21M805.66 1157.21L815.41 1147.46" stroke="#0000ff" stroke-width="2.3"/>
<path d="M819.41 1130.95L829.16 1140.7M819.41 1140.7L829.16 1130.95" stroke="#0000ff" stroke-width="2.3"/>
<path d="M833.16 1114.45L842.91 1124.2M833.16 1124.2L842.91 1114.45" stroke="#0000ff" stroke-width="2.3"/>
<path d="M846.91 1097.94L856.66 1107.69M846.91 1107.69L856.66 1097.94" stroke="#0000ff" stroke-width="2.3"/>
<path d="M860.66 1081.43L870.41 1091.18M860.66 1091.18L870.41 1081.43" stroke="#0000ff" stroke-width="2.3"/>
<path d="M874.42 1064.93L884.17 1074.68M874.42 1074.68L884.17 1064.93" stroke="#0000ff" stroke-width="2.3"/>
<path d="M888.17 1048.42L897.92 1058.17M888.17 1058.17L897.92 1048.42" stroke="#0000ff" stroke-width="2.3"/>
<path d="M901.92 1031.92L911.67 1041.67M901.92 1041.67L911.67 1031.92" stroke="#0000ff" stroke-width="2.3"/>
<path d="M915.67 1015.41L925.42 1025.16M915.67 1025.16L925.42 1015.41" stroke="#0000ff" stroke-width="2.3"/>
<path d="M929.42 998.91L939.17 1008.66M929.42 1008.66L939.17 998.91" stroke="#0000ff" stroke-width="2.3"/>
<polyline points="590.5,985.92 604.25,1004.41 618,1022.91 631.76,1041.4 645.51,1059.9 659.26,1078.39 673.01,1096.89 686.76,1115.38 700.52,1133.87 714.27,1152.37 728.02,1170.86 741.77,1189.36 755.52,1207.85 769.28,1200.31 783.03,1181.62 796.78,1162.93 810.53,1144.23 824.28,1125.54 838.04,1106.85 851.79,1088.15 865.54,1069.46 879.29,1050.77 893.04,1032.07 906.8,1013.38 920.55,994.69 934.3,975.99" fill="none" stroke="#7e2f8e" stroke-width="2.3" stroke-linejoin="round"/>
<rect x="585.7" y="981.12" width="9.6" height="9.6" fill="none" stroke="#7e2f8e" stroke-width="2.1"/>
<rect x="599.45" y="999.61" width="9.6" height="9.6" fill="none" stroke="#7e2f8e" stroke-width="2.1"/>
<rect x="613.2" y="1018.11" width="9.6" height="9.6" fill="none" stroke="#7e2f8e" stroke-width="2.1"/>
<rect x="626.96" y="1036.6" width="9.6" height="9.6" fill="none" stroke="#7e2f8e" stroke-width="2.1"/>
<rect x="640.71" y="1055.1" width="9.6" height="9.6" fill="none" stroke="#7e2f8e" stroke-width="2.1"/>
<rect x="654.46" y="1073.59" width="9.6" height="9.6" fill="none" stroke="#7e2f8e" stroke-width="2.1"/>
<rect x="668.21" y="1092.09" width="9.6" height="9.6" fill="none" stroke="#7e2f8e" stroke-width="2.1"/>
<rect x="681.96" y="1110.58" width="9.6" height="9.6" fill="none" stroke="#7e2f8e" stroke-width="2.1"/>
<rect x="695.72" y="1129.07" width="9.6" height="9.6" fill="none" stroke="#7e2f8e" stroke-width="2.1"/>
<rect x="709.47" y="1147.57" width="9.6" height="9.6" fill="none" stroke="#7e2f8e" stroke-width="2.1"/>
<rect x="723.22" y="1166.06" width="9.6" height="9.6" fill="none" stroke="#7e2f8e" stroke-width="2.1"/>
<rect x="736.97" y="1184.56" width="9.6" height="9.6" fill="none" stroke="#7e2f8e" stroke-width="2.1"/>
<rect x="750.72" y="1203.05" width="9.6" height="9.6" fill="none" stroke="#7e2f8e" stroke-width="2.1"/>
<rect x="764.48" y="1195.51" width="9.6" height="9.6" fill="none" stroke="#7e2f8e" stroke-width="2.1"/>
<rect x="778.23" y="1176.82" width="9.6" height="9.6" fill="none" stroke="#7e2f8e" stroke-width="2.1"/>
<rect x="791.98" y="1158.13" width="9.6" height="9.6" fill="none" stroke="#7e2f8e" stroke-width="2.1"/>
<rect x="805.73" y="1139.43" width="9.6" height="9.6" fill="none" stroke="#7e2f8e" stroke-width="2.1"/>
<rect x="819.48" y="1120.74" width="9.6" height="9.6" fill="none" stroke="#7e2f8e" stroke-width="2.1"/>
<rect x="833.24" y="1102.05" width="9.6" height="9.6" fill="none" stroke="#7e2f8e" stroke-width="2.1"/>
<rect x="846.99" y="1083.35" width="9.6" height="9.6" fill="none" stroke="#7e2f8e" stroke-width="2.1"/>
<rect x="860.74" y="1064.66" width="9.6" height="9.6" fill="none" stroke="#7e2f8e" stroke-width="2.1"/>
<rect x="874.49" y="1045.97" width="9.6" height="9.6" fill="none" stroke="#7e2f8e" stroke-width="2.1"/>
<rect x="888.24" y="1027.27" width="9.6" height="9.6" fill="none" stroke="#7e2f8e" stroke-width="2.1"/>
<rect x="902" y="1008.58" width="9.6" height="9.6" fill="none" stroke="#7e2f8e" stroke-width="2.1"/>
<rect x="915.75" y="989.89" width="9.6" height="9.6" fill="none" stroke="#7e2f8e" stroke-width="2.1"/>
<rect x="929.5" y="971.19" width="9.6" height="9.6" fill="none" stroke="#7e2f8e" stroke-width="2.1"/>
<polyline points="590.5,955.35 604.25,976.33 618,997.31 631.76,1018.29 645.51,1039.27 659.26,1060.25 673.01,1081.23 686.76,1102.21 700.52,1123.19 714.27,1144.17 728.02,1165.15 741.77,1186.13 755.52,1207.11 769.28,1200.1 783.03,1181.09 796.78,1162.08 810.53,1143.08 824.28,1124.07 838.04,1105.07 851.79,1086.06 865.54,1067.05 879.29,1048.05 893.04,1029.04 906.8,1010.04 920.55,991.03 934.3,972.02" fill="none" stroke="#993300" stroke-width="2.3" stroke-linejoin="round"/>
<path d="M583.5 955.35H597.5M590.5 948.35V962.35M585.46 950.31L595.54 960.39M585.46 960.39L595.54 950.31" stroke="#993300" stroke-width="2.1"/>
<path d="M597.25 976.33H611.25M604.25 969.33V983.33M599.21 971.29L609.29 981.37M599.21 981.37L609.29 971.29" stroke="#993300" stroke-width="2.1"/>
<path d="M611 997.31H625M618 990.31V1004.31M612.96 992.27L623.04 1002.35M612.96 1002.35L623.04 992.27" stroke="#993300" stroke-width="2.1"/>
<path d="M624.76 1018.29H638.76M631.76 1011.29V1025.29M626.72 1013.25L636.8 1023.33M626.72 1023.33L636.8 1013.25" stroke="#993300" stroke-width="2.1"/>
<path d="M638.51 1039.27H652.51M645.51 1032.27V1046.27M640.47 1034.23L650.55 1044.31M640.47 1044.31L650.55 1034.23" stroke="#993300" stroke-width="2.1"/>
<path d="M652.26 1060.25H666.26M659.26 1053.25V1067.25M654.22 1055.21L664.3 1065.29M654.22 1065.29L664.3 1055.21" stroke="#993300" stroke-width="2.1"/>
<path d="M666.01 1081.23H680.01M673.01 1074.23V1088.23M667.97 1076.19L678.05 1086.27M667.97 1086.27L678.05 1076.19" stroke="#993300" stroke-width="2.1"/>
<path d="M679.76 1102.21H693.76M686.76 1095.21V1109.21M681.72 1097.17L691.8 1107.25M681.72 1107.25L691.8 1097.17" stroke="#993300" stroke-width="2.1"/>
<path d="M693.52 1123.19H707.52M700.52 1116.19V1130.19M695.48 1118.15L705.56 1128.23M695.48 1128.23L705.56 1118.15" stroke="#993300" stroke-width="2.1"/>
<path d="M707.27 1144.17H721.27M714.27 1137.17V1151.17M709.23 1139.13L719.31 1149.21M709.23 1149.21L719.31 1139.13" stroke="#993300" stroke-width="2.1"/>
<path d="M721.02 1165.15H735.02M728.02 1158.15V1172.15M722.98 1160.11L733.06 1170.19M722.98 1170.19L733.06 1160.11" stroke="#993300" stroke-width="2.1"/>
<path d="M734.77 1186.13H748.77M741.77 1179.13V1193.13M736.73 1181.09L746.81 1191.17M736.73 1191.17L746.81 1181.09" stroke="#993300" stroke-width="2.1"/>
<path d="M748.52 1207.11H762.52M755.52 1200.11V1214.11M750.48 1202.07L760.56 1212.15M750.48 1212.15L760.56 1202.07" stroke="#993300" stroke-width="2.1"/>
<path d="M762.28 1200.1H776.28M769.28 1193.1V1207.1M764.24 1195.06L774.32 1205.14M764.24 1205.14L774.32 1195.06" stroke="#993300" stroke-width="2.1"/>
<path d="M776.03 1181.09H790.03M783.03 1174.09V1188.09M777.99 1176.05L788.07 1186.13M777.99 1186.13L788.07 1176.05" stroke="#993300" stroke-width="2.1"/>
<path d="M789.78 1162.08H803.78M796.78 1155.08V1169.08M791.74 1157.04L801.82 1167.12M791.74 1167.12L801.82 1157.04" stroke="#993300" stroke-width="2.1"/>
<path d="M803.53 1143.08H817.53M810.53 1136.08V1150.08M805.49 1138.04L815.57 1148.12M805.49 1148.12L815.57 1138.04" stroke="#993300" stroke-width="2.1"/>
<path d="M817.28 1124.07H831.28M824.28 1117.07V1131.07M819.24 1119.03L829.32 1129.11M819.24 1129.11L829.32 1119.03" stroke="#993300" stroke-width="2.1"/>
<path d="M831.04 1105.07H845.04M838.04 1098.07V1112.07M833 1100.03L843.08 1110.11M833 1110.11L843.08 1100.03" stroke="#993300" stroke-width="2.1"/>
<path d="M844.79 1086.06H858.79M851.79 1079.06V1093.06M846.75 1081.02L856.83 1091.1M846.75 1091.1L856.83 1081.02" stroke="#993300" stroke-width="2.1"/>
<path d="M858.54 1067.05H872.54M865.54 1060.05V1074.05M860.5 1062.01L870.58 1072.09M860.5 1072.09L870.58 1062.01" stroke="#993300" stroke-width="2.1"/>
<path d="M872.29 1048.05H886.29M879.29 1041.05V1055.05M874.25 1043.01L884.33 1053.09M874.25 1053.09L884.33 1043.01" stroke="#993300" stroke-width="2.1"/>
<path d="M886.04 1029.04H900.04M893.04 1022.04V1036.04M888 1024L898.08 1034.08M888 1034.08L898.08 1024" stroke="#993300" stroke-width="2.1"/>
<path d="M899.8 1010.04H913.8M906.8 1003.04V1017.04M901.76 1005L911.84 1015.08M901.76 1015.08L911.84 1005" stroke="#993300" stroke-width="2.1"/>
<path d="M913.55 991.03H927.55M920.55 984.03V998.03M915.51 985.99L925.59 996.07M915.51 996.07L925.59 985.99" stroke="#993300" stroke-width="2.1"/>
<path d="M927.3 972.02H941.3M934.3 965.02V979.02M929.26 966.98L939.34 977.06M929.26 977.06L939.34 966.98" stroke="#993300" stroke-width="2.1"/>
<text transform="translate(579.5 1225.5) scale(0.950 1)" font-size="41" text-anchor="end" style="stroke-width:0.40px">0</text>
<text transform="translate(579.5 1065) scale(0.950 1)" font-size="41" text-anchor="end" style="stroke-width:0.40px">2</text>
<text transform="translate(579.5 905.8) scale(0.950 1)" font-size="41" text-anchor="end" style="stroke-width:0.40px">4</text>
<text transform="translate(507.59 1259.64) scale(1.0841 1)" font-size="37.06" style="stroke-width:0.36px">-0.292865</text>
<text transform="translate(859.28 1259.64) scale(1.0977 1)" font-size="37.06" style="stroke-width:0.36px">-0.29284</text>
<text transform="translate(731.45 1260.5) scale(1.0882 1)" font-size="39.78" font-style="italic" style="stroke-width:0.39px">z</text>
<text transform="translate(749.54 1266.5) scale(1.0007 1)" font-size="29.35" font-style="italic" style="stroke-width:0.29px">z</text>
<text transform="translate(762.27 1266.21) scale(0.9651 1)" font-size="28.79" font-style="italic" style="stroke-width:0.28px">d</text>
<text transform="translate(739.29 1293.7) scale(1.0398 1)" font-size="42.61" style="stroke-width:1.10px">z</text>
<text transform="translate(591.88 887.57) scale(1.0564 1)" font-size="46.99" style="stroke-width:0.46px">×</text>
<text transform="translate(620.76 881.31) scale(1.0663 1)" font-size="39.11" style="stroke-width:0.38px">10</text>
<line x1="663.3" y1="859.8" x2="680.5" y2="859.8" stroke="#000" stroke-width="1.9"/>
<text transform="translate(681.26 867.72) scale(1.0137 1)" font-size="27.67" style="stroke-width:0.27px">5</text>
<text transform="translate(537.9 1090.77) rotate(-90) scale(1.1658 1)" font-size="48.33" style="stroke-width:0.47px">Δ</text>
<text transform="translate(537.9 1052.1) rotate(-90) scale(1.1259 1)" font-size="47.18" font-style="italic" style="stroke-width:0.46px">E</text>
<text transform="translate(16.3 1339.14) scale(0.9192 1)" font-size="43.52" style="stroke-width:0.42px">(g)</text>
<line x1="133" y1="1599.2" x2="133" y2="1594.7" stroke="#1a1a1a" stroke-width="1.6"/>
<line x1="133" y1="1326" x2="133" y2="1330.5" stroke="#1a1a1a" stroke-width="1.6"/>
<line x1="175.8" y1="1599.2" x2="175.8" y2="1594.7" stroke="#1a1a1a" stroke-width="1.6"/>
<line x1="175.8" y1="1326" x2="175.8" y2="1330.5" stroke="#1a1a1a" stroke-width="1.6"/>
<line x1="218.6" y1="1599.2" x2="218.6" y2="1594.7" stroke="#1a1a1a" stroke-width="1.6"/>
<line x1="218.6" y1="1326" x2="218.6" y2="1330.5" stroke="#1a1a1a" stroke-width="1.6"/>
<line x1="261.4" y1="1599.2" x2="261.4" y2="1594.7" stroke="#1a1a1a" stroke-width="1.6"/>
<line x1="261.4" y1="1326" x2="261.4" y2="1330.5" stroke="#1a1a1a" stroke-width="1.6"/>
<line x1="304.2" y1="1599.2" x2="304.2" y2="1594.7" stroke="#1a1a1a" stroke-width="1.6"/>
<line x1="304.2" y1="1326" x2="304.2" y2="1330.5" stroke="#1a1a1a" stroke-width="1.6"/>
<line x1="347" y1="1599.2" x2="347" y2="1594.7" stroke="#1a1a1a" stroke-width="1.6"/>
<line x1="347" y1="1326" x2="347" y2="1330.5" stroke="#1a1a1a" stroke-width="1.6"/>
<line x1="389.8" y1="1599.2" x2="389.8" y2="1594.7" stroke="#1a1a1a" stroke-width="1.6"/>
<line x1="389.8" y1="1326" x2="389.8" y2="1330.5" stroke="#1a1a1a" stroke-width="1.6"/>
<line x1="432.6" y1="1599.2" x2="432.6" y2="1594.7" stroke="#1a1a1a" stroke-width="1.6"/>
<line x1="432.6" y1="1326" x2="432.6" y2="1330.5" stroke="#1a1a1a" stroke-width="1.6"/>
<line x1="111.6" y1="1599.2" x2="116.1" y2="1599.2" stroke="#1a1a1a" stroke-width="1.6"/>
<line x1="454" y1="1599.2" x2="449.5" y2="1599.2" stroke="#1a1a1a" stroke-width="1.6"/>
<line x1="111.6" y1="1477.78" x2="116.1" y2="1477.78" stroke="#1a1a1a" stroke-width="1.6"/>
<line x1="454" y1="1477.78" x2="449.5" y2="1477.78" stroke="#1a1a1a" stroke-width="1.6"/>
<line x1="111.6" y1="1356.36" x2="116.1" y2="1356.36" stroke="#1a1a1a" stroke-width="1.6"/>
<line x1="454" y1="1356.36" x2="449.5" y2="1356.36" stroke="#1a1a1a" stroke-width="1.6"/>
<rect x="111.6" y="1326" width="342.4" height="273.2" fill="none" stroke="#1a1a1a" stroke-width="2.4" stroke-linejoin="miter"/>
<polyline points="133,1580.99 175.8,1520.28 218.6,1580.99 261.4,1568.84 304.2,1441.35 347,1568.84 389.8,1538.49 432.6,1350.28" fill="none" stroke="#ff0000" stroke-width="2.5" stroke-linejoin="round"/>
<circle cx="133" cy="1580.99" r="6" fill="none" stroke="#ff0000" stroke-width="2.4"/>
<circle cx="175.8" cy="1520.28" r="6" fill="none" stroke="#ff0000" stroke-width="2.4"/>
<circle cx="218.6" cy="1580.99" r="6" fill="none" stroke="#ff0000" stroke-width="2.4"/>
<circle cx="261.4" cy="1568.84" r="6" fill="none" stroke="#ff0000" stroke-width="2.4"/>
<circle cx="304.2" cy="1441.35" r="6" fill="none" stroke="#ff0000" stroke-width="2.4"/>
<circle cx="347" cy="1568.84" r="6" fill="none" stroke="#ff0000" stroke-width="2.4"/>
<circle cx="389.8" cy="1538.49" r="6" fill="none" stroke="#ff0000" stroke-width="2.4"/>
<circle cx="432.6" cy="1350.28" r="6" fill="none" stroke="#ff0000" stroke-width="2.4"/>
<polyline points="133,1574.92 175.8,1520.28 218.6,1574.92 261.4,1556.7 304.2,1441.35 347,1556.7 389.8,1526.35 432.6,1350.28" fill="none" stroke="#0000ff" stroke-width="2.5" stroke-linejoin="round"/>
<rect x="128.4" y="1570.32" width="9.2" height="9.2" fill="none" stroke="#0000ff" stroke-width="2.3"/>
<rect x="171.2" y="1515.68" width="9.2" height="9.2" fill="none" stroke="#0000ff" stroke-width="2.3"/>
<rect x="214" y="1570.32" width="9.2" height="9.2" fill="none" stroke="#0000ff" stroke-width="2.3"/>
<rect x="256.8" y="1552.1" width="9.2" height="9.2" fill="none" stroke="#0000ff" stroke-width="2.3"/>
<rect x="299.6" y="1436.75" width="9.2" height="9.2" fill="none" stroke="#0000ff" stroke-width="2.3"/>
<rect x="342.4" y="1552.1" width="9.2" height="9.2" fill="none" stroke="#0000ff" stroke-width="2.3"/>
<rect x="385.2" y="1521.75" width="9.2" height="9.2" fill="none" stroke="#0000ff" stroke-width="2.3"/>
<rect x="428" y="1345.68" width="9.2" height="9.2" fill="none" stroke="#0000ff" stroke-width="2.3"/>
<line x1="111.6" y1="1590.09" x2="454" y2="1541.52" stroke="#a03e10" stroke-width="2.5" stroke-dasharray="15 8.4"/>
<polyline points="133,1580.99 175.8,1520.28 218.6,1580.99 261.4,1568.84 304.2,1441.35 347,1568.84 389.8,1538.49 432.6,1350.28" fill="none" stroke="#008000" stroke-width="2.5" stroke-linejoin="round"/>
<path d="M128.35 1576.34L137.65 1585.64M128.35 1585.64L137.65 1576.34" stroke="#008000" stroke-width="2.5"/>
<path d="M171.15 1515.63L180.45 1524.93M171.15 1524.93L180.45 1515.63" stroke="#008000" stroke-width="2.5"/>
<path d="M213.95 1576.34L223.25 1585.64M213.95 1585.64L223.25 1576.34" stroke="#008000" stroke-width="2.5"/>
<path d="M256.75 1564.19L266.05 1573.49M256.75 1573.49L266.05 1564.19" stroke="#008000" stroke-width="2.5"/>
<path d="M299.55 1436.7L308.85 1446M299.55 1446L308.85 1436.7" stroke="#008000" stroke-width="2.5"/>
<path d="M342.35 1564.19L351.65 1573.49M342.35 1573.49L351.65 1564.19" stroke="#008000" stroke-width="2.5"/>
<path d="M385.15 1533.84L394.45 1543.14M385.15 1543.14L394.45 1533.84" stroke="#008000" stroke-width="2.5"/>
<path d="M427.95 1345.63L437.25 1354.93M427.95 1354.93L437.25 1345.63" stroke="#008000" stroke-width="2.5"/>
<text transform="translate(133 1647.6) scale(0.950 1)" font-size="41" text-anchor="middle" style="stroke-width:0.40px">4</text>
<text transform="translate(218.6 1647.6) scale(0.950 1)" font-size="41" text-anchor="middle" style="stroke-width:0.40px">8</text>
<text transform="translate(304.2 1647.6) scale(0.950 1)" font-size="41" text-anchor="middle" style="stroke-width:0.40px">12</text>
<text transform="translate(389.8 1647.6) scale(0.950 1)" font-size="41" text-anchor="middle" style="stroke-width:0.40px">16</text>
<text transform="translate(99.5 1612.7) scale(0.950 1)" font-size="41" text-anchor="end" style="stroke-width:0.40px">0</text>
<text transform="translate(99.5 1491.28) scale(0.950 1)" font-size="41" text-anchor="end" style="stroke-width:0.40px">20</text>
<text transform="translate(99.5 1369.86) scale(0.950 1)" font-size="41" text-anchor="end" style="stroke-width:0.40px">40</text>
<text transform="translate(269.98 1695.5) scale(1.0982 1)" font-size="47.18" font-style="italic" style="stroke-width:0.46px">L</text>
<text transform="translate(45.14 1567.5) rotate(-90) scale(0.9910 1)" font-size="44.48" style="stroke-width:0.43px">Degeneracy</text>
<text transform="translate(281.18 1370.37) scale(1.0029 1)" font-size="32.69" style="stroke-width:0.32px">PBC</text>
<line x1="128.8" y1="1356" x2="174.7" y2="1356" stroke="#ff0000" stroke-width="2.5"/>
<circle cx="151.8" cy="1356" r="6" fill="none" stroke="#ff0000" stroke-width="2.4"/>
<text transform="translate(180.57 1363.59) scale(1.0205 1)" font-size="31.13" font-style="italic" style="stroke-width:0.30px">θ</text>
<text transform="translate(205.04 1366.2) scale(1.3000 1)" font-size="31.20" style="stroke-width:0.30px">=</text>
<line x1="128.8" y1="1393.6" x2="174.7" y2="1393.6" stroke="#0000ff" stroke-width="2.5"/>
<rect x="147.2" y="1389" width="9.2" height="9.2" fill="none" stroke="#0000ff" stroke-width="2.3"/>
<text transform="translate(180.57 1400.89) scale(1.0205 1)" font-size="31.13" font-style="italic" style="stroke-width:0.30px">θ</text>
<text transform="translate(205.04 1403.5) scale(1.3000 1)" font-size="31.20" style="stroke-width:0.30px">=</text>
<line x1="128.8" y1="1433" x2="174.7" y2="1433" stroke="#008000" stroke-width="2.5"/>
<path d="M147.15 1428.35L156.45 1437.65M147.15 1437.65L156.45 1428.35" stroke="#008000" stroke-width="2.5"/>
<text transform="translate(180.57 1440.99) scale(1.0205 1)" font-size="31.13" font-style="italic" style="stroke-width:0.30px">θ</text>
<text transform="translate(205.04 1443.6) scale(1.3000 1)" font-size="31.20" style="stroke-width:0.30px">=</text>
<text transform="translate(240.29 1351.61) scale(1.1709 1)" font-size="18.72" font-style="italic" style="stroke-width:0.18px">π</text>
<line x1="240.1" y1="1355.9" x2="253.3" y2="1355.9" stroke="#000" stroke-width="1.7"/>
<text transform="translate(240.59 1374.7) scale(1.0613 1)" font-size="21.83" style="stroke-width:0.21px">7</text>
<text transform="translate(240.29 1388.72) scale(1.2122 1)" font-size="18.09" font-style="italic" style="stroke-width:0.18px">π</text>
<line x1="240.1" y1="1393.1" x2="253.3" y2="1393.1" stroke="#000" stroke-width="1.6"/>
<text transform="translate(241.8 1411.8) scale(0.9597 1)" font-size="21.06" style="stroke-width:0.21px">4</text>
<text transform="translate(239.95 1429) scale(1.2034 1)" font-size="19.70" style="stroke-width:0.19px">2</text>
<text transform="translate(250.89 1428.79) scale(1.0665 1)" font-size="21.28" font-style="italic" style="stroke-width:0.21px">π</text>
<line x1="240.1" y1="1433.2" x2="263.8" y2="1433.2" stroke="#000" stroke-width="1.6"/>
<text transform="translate(246.78 1451.2) scale(1.0162 1)" font-size="20.15" style="stroke-width:0.20px">3</text>
<line x1="128.7" y1="1468.3" x2="174.8" y2="1468.3" stroke="#a03e10" stroke-width="2.3" stroke-dasharray="13.3 7.4"/>
<text transform="translate(182.55 1475.9) scale(1.1083 1)" font-size="32.82" font-style="italic" style="stroke-width:0.32px">L</text>
<text transform="translate(203.4 1482.94) scale(0.9415 1)" font-size="45.52" style="stroke-width:0.44px">/</text>
<text transform="translate(217.17 1475.9) scale(0.9700 1)" font-size="31.82" style="stroke-width:0.31px">2</text>
<text transform="translate(478.27 1341.26) scale(0.9601 1)" font-size="42.53" style="stroke-width:0.41px">(h)</text>
<line x1="612.46" y1="1599" x2="612.46" y2="1594.5" stroke="#1a1a1a" stroke-width="1.6"/>
<line x1="612.46" y1="1325.6" x2="612.46" y2="1330.1" stroke="#1a1a1a" stroke-width="1.6"/>
<line x1="655.37" y1="1599" x2="655.37" y2="1594.5" stroke="#1a1a1a" stroke-width="1.6"/>
<line x1="655.37" y1="1325.6" x2="655.37" y2="1330.1" stroke="#1a1a1a" stroke-width="1.6"/>
<line x1="698.28" y1="1599" x2="698.28" y2="1594.5" stroke="#1a1a1a" stroke-width="1.6"/>
<line x1="698.28" y1="1325.6" x2="698.28" y2="1330.1" stroke="#1a1a1a" stroke-width="1.6"/>
<line x1="741.19" y1="1599" x2="741.19" y2="1594.5" stroke="#1a1a1a" stroke-width="1.6"/>
<line x1="741.19" y1="1325.6" x2="741.19" y2="1330.1" stroke="#1a1a1a" stroke-width="1.6"/>
<line x1="784.11" y1="1599" x2="784.11" y2="1594.5" stroke="#1a1a1a" stroke-width="1.6"/>
<line x1="784.11" y1="1325.6" x2="784.11" y2="1330.1" stroke="#1a1a1a" stroke-width="1.6"/>
<line x1="827.02" y1="1599" x2="827.02" y2="1594.5" stroke="#1a1a1a" stroke-width="1.6"/>
<line x1="827.02" y1="1325.6" x2="827.02" y2="1330.1" stroke="#1a1a1a" stroke-width="1.6"/>
<line x1="869.93" y1="1599" x2="869.93" y2="1594.5" stroke="#1a1a1a" stroke-width="1.6"/>
<line x1="869.93" y1="1325.6" x2="869.93" y2="1330.1" stroke="#1a1a1a" stroke-width="1.6"/>
<line x1="912.84" y1="1599" x2="912.84" y2="1594.5" stroke="#1a1a1a" stroke-width="1.6"/>
<line x1="912.84" y1="1325.6" x2="912.84" y2="1330.1" stroke="#1a1a1a" stroke-width="1.6"/>
<line x1="591" y1="1599" x2="595.5" y2="1599" stroke="#1a1a1a" stroke-width="1.6"/>
<line x1="934.3" y1="1599" x2="929.8" y2="1599" stroke="#1a1a1a" stroke-width="1.6"/>
<line x1="591" y1="1530.65" x2="595.5" y2="1530.65" stroke="#1a1a1a" stroke-width="1.6"/>
<line x1="934.3" y1="1530.65" x2="929.8" y2="1530.65" stroke="#1a1a1a" stroke-width="1.6"/>
<line x1="591" y1="1462.3" x2="595.5" y2="1462.3" stroke="#1a1a1a" stroke-width="1.6"/>
<line x1="934.3" y1="1462.3" x2="929.8" y2="1462.3" stroke="#1a1a1a" stroke-width="1.6"/>
<line x1="591" y1="1393.95" x2="595.5" y2="1393.95" stroke="#1a1a1a" stroke-width="1.6"/>
<line x1="934.3" y1="1393.95" x2="929.8" y2="1393.95" stroke="#1a1a1a" stroke-width="1.6"/>
<line x1="591" y1="1325.6" x2="595.5" y2="1325.6" stroke="#1a1a1a" stroke-width="1.6"/>
<line x1="934.3" y1="1325.6" x2="929.8" y2="1325.6" stroke="#1a1a1a" stroke-width="1.6"/>
<line x1="591" y1="1578.42" x2="593.48" y2="1578.42" stroke="#1a1a1a" stroke-width="1.3"/>
<line x1="934.3" y1="1578.42" x2="931.82" y2="1578.42" stroke="#1a1a1a" stroke-width="1.3"/>
<line x1="591" y1="1566.39" x2="593.48" y2="1566.39" stroke="#1a1a1a" stroke-width="1.3"/>
<line x1="934.3" y1="1566.39" x2="931.82" y2="1566.39" stroke="#1a1a1a" stroke-width="1.3"/>
<line x1="591" y1="1557.85" x2="593.48" y2="1557.85" stroke="#1a1a1a" stroke-width="1.3"/>
<line x1="934.3" y1="1557.85" x2="931.82" y2="1557.85" stroke="#1a1a1a" stroke-width="1.3"/>
<line x1="591" y1="1551.23" x2="593.48" y2="1551.23" stroke="#1a1a1a" stroke-width="1.3"/>
<line x1="934.3" y1="1551.23" x2="931.82" y2="1551.23" stroke="#1a1a1a" stroke-width="1.3"/>
<line x1="591" y1="1545.81" x2="593.48" y2="1545.81" stroke="#1a1a1a" stroke-width="1.3"/>
<line x1="934.3" y1="1545.81" x2="931.82" y2="1545.81" stroke="#1a1a1a" stroke-width="1.3"/>
<line x1="591" y1="1541.24" x2="593.48" y2="1541.24" stroke="#1a1a1a" stroke-width="1.3"/>
<line x1="934.3" y1="1541.24" x2="931.82" y2="1541.24" stroke="#1a1a1a" stroke-width="1.3"/>
<line x1="591" y1="1537.27" x2="593.48" y2="1537.27" stroke="#1a1a1a" stroke-width="1.3"/>
<line x1="934.3" y1="1537.27" x2="931.82" y2="1537.27" stroke="#1a1a1a" stroke-width="1.3"/>
<line x1="591" y1="1533.78" x2="593.48" y2="1533.78" stroke="#1a1a1a" stroke-width="1.3"/>
<line x1="934.3" y1="1533.78" x2="931.82" y2="1533.78" stroke="#1a1a1a" stroke-width="1.3"/>
<line x1="591" y1="1510.07" x2="593.48" y2="1510.07" stroke="#1a1a1a" stroke-width="1.3"/>
<line x1="934.3" y1="1510.07" x2="931.82" y2="1510.07" stroke="#1a1a1a" stroke-width="1.3"/>
<line x1="591" y1="1498.04" x2="593.48" y2="1498.04" stroke="#1a1a1a" stroke-width="1.3"/>
<line x1="934.3" y1="1498.04" x2="931.82" y2="1498.04" stroke="#1a1a1a" stroke-width="1.3"/>
<line x1="591" y1="1489.5" x2="593.48" y2="1489.5" stroke="#1a1a1a" stroke-width="1.3"/>
<line x1="934.3" y1="1489.5" x2="931.82" y2="1489.5" stroke="#1a1a1a" stroke-width="1.3"/>
<line x1="591" y1="1482.88" x2="593.48" y2="1482.88" stroke="#1a1a1a" stroke-width="1.3"/>
<line x1="934.3" y1="1482.88" x2="931.82" y2="1482.88" stroke="#1a1a1a" stroke-width="1.3"/>
<line x1="591" y1="1477.46" x2="593.48" y2="1477.46" stroke="#1a1a1a" stroke-width="1.3"/>
<line x1="934.3" y1="1477.46" x2="931.82" y2="1477.46" stroke="#1a1a1a" stroke-width="1.3"/>
<line x1="591" y1="1472.89" x2="593.48" y2="1472.89" stroke="#1a1a1a" stroke-width="1.3"/>
<line x1="934.3" y1="1472.89" x2="931.82" y2="1472.89" stroke="#1a1a1a" stroke-width="1.3"/>
<line x1="591" y1="1468.92" x2="593.48" y2="1468.92" stroke="#1a1a1a" stroke-width="1.3"/>
<line x1="934.3" y1="1468.92" x2="931.82" y2="1468.92" stroke="#1a1a1a" stroke-width="1.3"/>
<line x1="591" y1="1465.43" x2="593.48" y2="1465.43" stroke="#1a1a1a" stroke-width="1.3"/>
<line x1="934.3" y1="1465.43" x2="931.82" y2="1465.43" stroke="#1a1a1a" stroke-width="1.3"/>
<line x1="591" y1="1441.72" x2="593.48" y2="1441.72" stroke="#1a1a1a" stroke-width="1.3"/>
<line x1="934.3" y1="1441.72" x2="931.82" y2="1441.72" stroke="#1a1a1a" stroke-width="1.3"/>
<line x1="591" y1="1429.69" x2="593.48" y2="1429.69" stroke="#1a1a1a" stroke-width="1.3"/>
<line x1="934.3" y1="1429.69" x2="931.82" y2="1429.69" stroke="#1a1a1a" stroke-width="1.3"/>
<line x1="591" y1="1421.15" x2="593.48" y2="1421.15" stroke="#1a1a1a" stroke-width="1.3"/>
<line x1="934.3" y1="1421.15" x2="931.82" y2="1421.15" stroke="#1a1a1a" stroke-width="1.3"/>
<line x1="591" y1="1414.53" x2="593.48" y2="1414.53" stroke="#1a1a1a" stroke-width="1.3"/>
<line x1="934.3" y1="1414.53" x2="931.82" y2="1414.53" stroke="#1a1a1a" stroke-width="1.3"/>
<line x1="591" y1="1409.11" x2="593.48" y2="1409.11" stroke="#1a1a1a" stroke-width="1.3"/>
<line x1="934.3" y1="1409.11" x2="931.82" y2="1409.11" stroke="#1a1a1a" stroke-width="1.3"/>
<line x1="591" y1="1404.54" x2="593.48" y2="1404.54" stroke="#1a1a1a" stroke-width="1.3"/>
<line x1="934.3" y1="1404.54" x2="931.82" y2="1404.54" stroke="#1a1a1a" stroke-width="1.3"/>
<line x1="591" y1="1400.57" x2="593.48" y2="1400.57" stroke="#1a1a1a" stroke-width="1.3"/>
<line x1="934.3" y1="1400.57" x2="931.82" y2="1400.57" stroke="#1a1a1a" stroke-width="1.3"/>
<line x1="591" y1="1397.08" x2="593.48" y2="1397.08" stroke="#1a1a1a" stroke-width="1.3"/>
<line x1="934.3" y1="1397.08" x2="931.82" y2="1397.08" stroke="#1a1a1a" stroke-width="1.3"/>
<line x1="591" y1="1373.37" x2="593.48" y2="1373.37" stroke="#1a1a1a" stroke-width="1.3"/>
<line x1="934.3" y1="1373.37" x2="931.82" y2="1373.37" stroke="#1a1a1a" stroke-width="1.3"/>
<line x1="591" y1="1361.34" x2="593.48" y2="1361.34" stroke="#1a1a1a" stroke-width="1.3"/>
<line x1="934.3" y1="1361.34" x2="931.82" y2="1361.34" stroke="#1a1a1a" stroke-width="1.3"/>
<line x1="591" y1="1352.8" x2="593.48" y2="1352.8" stroke="#1a1a1a" stroke-width="1.3"/>
<line x1="934.3" y1="1352.8" x2="931.82" y2="1352.8" stroke="#1a1a1a" stroke-width="1.3"/>
<line x1="591" y1="1346.18" x2="593.48" y2="1346.18" stroke="#1a1a1a" stroke-width="1.3"/>
<line x1="934.3" y1="1346.18" x2="931.82" y2="1346.18" stroke="#1a1a1a" stroke-width="1.3"/>
<line x1="591" y1="1340.76" x2="593.48" y2="1340.76" stroke="#1a1a1a" stroke-width="1.3"/>
<line x1="934.3" y1="1340.76" x2="931.82" y2="1340.76" stroke="#1a1a1a" stroke-width="1.3"/>
<line x1="591" y1="1336.19" x2="593.48" y2="1336.19" stroke="#1a1a1a" stroke-width="1.3"/>
<line x1="934.3" y1="1336.19" x2="931.82" y2="1336.19" stroke="#1a1a1a" stroke-width="1.3"/>
<line x1="591" y1="1332.22" x2="593.48" y2="1332.22" stroke="#1a1a1a" stroke-width="1.3"/>
<line x1="934.3" y1="1332.22" x2="931.82" y2="1332.22" stroke="#1a1a1a" stroke-width="1.3"/>
<line x1="591" y1="1328.73" x2="593.48" y2="1328.73" stroke="#1a1a1a" stroke-width="1.3"/>
<line x1="934.3" y1="1328.73" x2="931.82" y2="1328.73" stroke="#1a1a1a" stroke-width="1.3"/>
<rect x="591" y="1325.6" width="343.3" height="273.4" fill="none" stroke="#1a1a1a" stroke-width="2.4" stroke-linejoin="miter"/>
<polyline points="612.3,1545.5 654.9,1509.6 697.7,1485 740.5,1456.1 783.2,1426.9 826.4,1398.8 869.2,1369.6 911.8,1341" fill="none" stroke="#7e2f8e" stroke-width="2.4" stroke-linejoin="round"/>
<path d="M605.1 1545.5H619.5M612.3 1538.3V1552.7M607.12 1540.32L617.48 1550.68M607.12 1550.68L617.48 1540.32" stroke="#7e2f8e" stroke-width="2.5"/>
<path d="M647.7 1509.6H662.1M654.9 1502.4V1516.8M649.72 1504.42L660.08 1514.78M649.72 1514.78L660.08 1504.42" stroke="#7e2f8e" stroke-width="2.5"/>
<path d="M690.5 1485H704.9M697.7 1477.8V1492.2M692.52 1479.82L702.88 1490.18M692.52 1490.18L702.88 1479.82" stroke="#7e2f8e" stroke-width="2.5"/>
<path d="M733.3 1456.1H747.7M740.5 1448.9V1463.3M735.32 1450.92L745.68 1461.28M735.32 1461.28L745.68 1450.92" stroke="#7e2f8e" stroke-width="2.5"/>
<path d="M776 1426.9H790.4M783.2 1419.7V1434.1M778.02 1421.72L788.38 1432.08M778.02 1432.08L788.38 1421.72" stroke="#7e2f8e" stroke-width="2.5"/>
<path d="M819.2 1398.8H833.6M826.4 1391.6V1406M821.22 1393.62L831.58 1403.98M821.22 1403.98L831.58 1393.62" stroke="#7e2f8e" stroke-width="2.5"/>
<path d="M862 1369.6H876.4M869.2 1362.4V1376.8M864.02 1364.42L874.38 1374.78M864.02 1374.78L874.38 1364.42" stroke="#7e2f8e" stroke-width="2.5"/>
<path d="M904.6 1341H919M911.8 1333.8V1348.2M906.62 1335.82L916.98 1346.18M906.62 1346.18L916.98 1335.82" stroke="#7e2f8e" stroke-width="2.5"/>
<line x1="591" y1="1568.14" x2="924.64" y2="1408.16" stroke="#000" stroke-width="2.6" stroke-dasharray="14.5 9.3"/>
<text transform="translate(612.46 1649) scale(0.950 1)" font-size="41" text-anchor="middle" style="stroke-width:0.40px">4</text>
<text transform="translate(698.28 1649) scale(0.950 1)" font-size="41" text-anchor="middle" style="stroke-width:0.40px">8</text>
<text transform="translate(784.11 1649) scale(0.950 1)" font-size="41" text-anchor="middle" style="stroke-width:0.40px">12</text>
<text transform="translate(869.93 1649) scale(0.950 1)" font-size="41" text-anchor="middle" style="stroke-width:0.40px">16</text>
<text transform="translate(524.33 1345.7) scale(0.9595 1)" font-size="40.15" style="stroke-width:0.39px">10</text>
<text transform="translate(562.63 1327) scale(0.9447 1)" font-size="33.33" style="stroke-width:0.33px">4</text>
<text transform="translate(524.4 1483.28) scale(0.9270 1)" font-size="41.93" style="stroke-width:0.41px">10</text>
<text transform="translate(562.31 1464.2) scale(1.0540 1)" font-size="33.03" style="stroke-width:0.32px">2</text>
<text transform="translate(524.4 1620.19) scale(0.9436 1)" font-size="41.19" style="stroke-width:0.40px">10</text>
<text transform="translate(562.5 1600.19) scale(1.0885 1)" font-size="31.41" style="stroke-width:0.31px">0</text>
<text transform="translate(749.67 1695.5) scale(1.0861 1)" font-size="47.18" font-style="italic" style="stroke-width:0.46px">L</text>
<text transform="translate(508.28 1566.59) rotate(-90) scale(1.0037 1)" font-size="43.33" style="stroke-width:0.42px">Degeneracy</text>
<line x1="616" y1="1363.9" x2="660.9" y2="1363.9" stroke="#7e2f8e" stroke-width="2.4"/>
<path d="M630.4 1363.9H644.8M637.6 1356.7V1371.1M632.42 1358.72L642.78 1369.08M632.42 1369.08L642.78 1358.72" stroke="#7e2f8e" stroke-width="2.5"/>
<text transform="translate(668.21 1371.4) scale(1.0580 1)" font-size="31.91" font-style="italic" style="stroke-width:0.31px">H</text>
<text transform="translate(695.1 1371.85) scale(0.8859 1)" font-size="33.74" style="stroke-width:0.33px">(1, 0, 0)</text>
<line x1="616" y1="1401.9" x2="660.9" y2="1401.9" stroke="#000" stroke-width="2.4" stroke-dasharray="12 8"/>
<text transform="translate(666.39 1409.9) scale(1.1058 1)" font-size="29.70" style="stroke-width:0.29px">2</text>
<text transform="translate(683.48 1399.2) scale(1.2476 1)" font-size="20.15" font-style="italic" style="stroke-width:0.20px">L</text>
<text transform="translate(697.5 1404.02) scale(0.9339 1)" font-size="28.21" style="stroke-width:0.28px">/2</text>
<text transform="translate(647.07 1446.7) scale(1.0839 1)" font-size="30.45" style="stroke-width:0.30px">PBC</text>
</svg>
</body></html>
